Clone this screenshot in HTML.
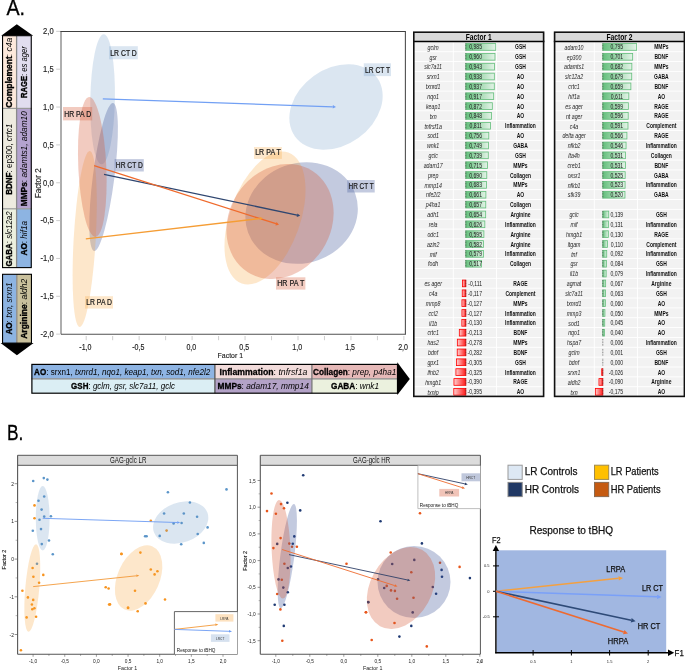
<!DOCTYPE html>
<html><head><meta charset="utf-8"><style>
html,body{margin:0;padding:0;background:#fff;}
svg{display:block;font-family:"Liberation Sans",sans-serif;will-change:transform;}
</style></head><body>
<svg width="685" height="671" viewBox="0 0 685 671">
<rect x="0" y="0" width="685" height="671" fill="#fff"/>
<text x="6.40" y="15.00" font-size="21.5" fill="#000" stroke="#000" stroke-width="0.3" textLength="18.60" lengthAdjust="spacingAndGlyphs" >A.</text>
<polygon points="1.20,35.70 16.80,24.20 33.20,35.70" fill="#000" />
<polygon points="0.60,343.10 16.90,355.30 33.60,343.10" fill="#000" />
<rect x="2.00" y="35.70" width="14.60" height="72.70" fill="#fde9dc" />
<rect x="16.60" y="35.70" width="15.20" height="72.70" fill="#e1ddef" />
<rect x="2.00" y="108.40" width="14.60" height="100.40" fill="#eeebe0" />
<rect x="16.60" y="108.40" width="15.20" height="100.40" fill="#b4a3cf" />
<rect x="2.00" y="208.80" width="14.60" height="58.80" fill="#ecf0df" />
<rect x="16.60" y="208.80" width="15.20" height="58.80" fill="#8db4e2" />
<rect x="2.00" y="274.30" width="14.60" height="68.80" fill="#8db4e2" />
<rect x="16.60" y="274.30" width="15.20" height="68.80" fill="#c9c09c" />
<line x1="2.00" y1="108.40" x2="31.80" y2="108.40" stroke="#9a9a9a" stroke-width="1.2" />
<line x1="2.00" y1="208.80" x2="31.80" y2="208.80" stroke="#9a9a9a" stroke-width="1.2" />
<line x1="16.60" y1="35.70" x2="16.60" y2="267.60" stroke="#8a8a8a" stroke-width="1.3" />
<line x1="16.80" y1="274.30" x2="16.80" y2="343.10" stroke="#8a8a8a" stroke-width="1.3" />
<rect x="2.55" y="35.70" width="28.70" height="231.90" fill="none" stroke="#000" stroke-width="1.1" />
<rect x="2.55" y="274.30" width="28.90" height="68.80" fill="none" stroke="#000" stroke-width="1.1" />
<text transform="translate(11.90,107.70) rotate(-90) scale(0.9265,1)" font-size="9.2" fill="#000"><tspan font-weight="bold" stroke="#000" stroke-width="0.35">Complement</tspan><tspan>: </tspan><tspan font-style="italic">c4a</tspan></text>
<text transform="translate(27.20,98.00) rotate(-90) scale(0.8320,1)" font-size="9.2" fill="#000"><tspan font-weight="bold" stroke="#000" stroke-width="0.35">RAGE</tspan><tspan>: </tspan><tspan font-style="italic">es ager</tspan></text>
<text transform="translate(11.90,194.80) rotate(-90) scale(0.8758,1)" font-size="9.2" fill="#000"><tspan font-weight="bold" stroke="#000" stroke-width="0.35">BDNF</tspan><tspan>: ep300, </tspan><tspan font-style="italic">crtc1</tspan></text>
<text transform="translate(27.20,206.20) rotate(-90) scale(0.9038,1)" font-size="9.2" fill="#000"><tspan font-weight="bold" stroke="#000" stroke-width="0.35">MMPs</tspan><tspan>: </tspan><tspan font-style="italic">adamts1, adam10</tspan></text>
<text transform="translate(11.90,266.60) rotate(-90) scale(0.8653,1)" font-size="9.2" fill="#000"><tspan font-weight="bold" stroke="#000" stroke-width="0.35">GABA</tspan><tspan>: </tspan><tspan font-style="italic">slc12a2</tspan></text>
<text transform="translate(27.20,255.40) rotate(-90) scale(0.8852,1)" font-size="9.2" fill="#000"><tspan font-weight="bold" stroke="#000" stroke-width="0.35">AO</tspan><tspan>: </tspan><tspan font-style="italic">hif1a</tspan></text>
<text transform="translate(11.90,334.60) rotate(-90) scale(0.8878,1)" font-size="9.2" fill="#000"><tspan font-weight="bold" stroke="#000" stroke-width="0.35">AO</tspan><tspan>: </tspan><tspan font-style="italic">txn, srxn1</tspan></text>
<text transform="translate(27.20,338.80) rotate(-90) scale(0.9255,1)" font-size="9.2" fill="#000"><tspan font-weight="bold" stroke="#000" stroke-width="0.35">Arginine</tspan><tspan>: </tspan><tspan font-style="italic">aldh2</tspan></text>
<ellipse cx="0" cy="0" rx="12.30" ry="65.00" transform="translate(102.60,99.30) rotate(1.00)" fill="#6492c3" fill-opacity="0.23" />
<ellipse cx="0" cy="0" rx="50.50" ry="38.20" transform="translate(336.00,107.00) rotate(-35.70)" fill="#6492c3" fill-opacity="0.23" />
<ellipse cx="0" cy="0" rx="10.80" ry="74.60" transform="translate(103.60,177.00) rotate(7.30)" fill="#374e94" fill-opacity="0.3" />
<ellipse cx="0" cy="0" rx="57.00" ry="50.00" transform="translate(301.60,213.00) rotate(-20.00)" fill="#374e94" fill-opacity="0.3" />
<ellipse cx="0" cy="0" rx="11.00" ry="88.10" transform="translate(84.70,239.00) rotate(3.30)" fill="#f7a030" fill-opacity="0.25" />
<ellipse cx="0" cy="0" rx="35.20" ry="69.40" transform="translate(265.00,218.00) rotate(19.60)" fill="#f7a030" fill-opacity="0.25" />
<ellipse cx="0" cy="0" rx="14.00" ry="70.00" transform="translate(92.30,167.00) rotate(-2.60)" fill="#d4522d" fill-opacity="0.3" />
<ellipse cx="0" cy="0" rx="50.80" ry="60.00" transform="translate(280.00,221.50) rotate(32.40)" fill="#d4522d" fill-opacity="0.3" />
<line x1="61.00" y1="31.50" x2="61.00" y2="334.20" stroke="#a0a0a0" stroke-width="1.7" />
<line x1="60.20" y1="31.50" x2="405.90" y2="31.50" stroke="#404040" stroke-width="1.2" />
<line x1="405.40" y1="31.50" x2="405.40" y2="334.20" stroke="#505050" stroke-width="1.1" />
<line x1="61.00" y1="334.20" x2="405.90" y2="334.20" stroke="#505050" stroke-width="1.1" />
<line x1="56.20" y1="31.35" x2="60.20" y2="31.35" stroke="#c8c8c8" stroke-width="0.9" />
<text x="53.60" y="34.15" font-size="8.4" fill="#222" stroke="#222" stroke-width="0.15" text-anchor="end" textLength="10.51" lengthAdjust="spacingAndGlyphs" >2,0</text>
<line x1="56.20" y1="69.20" x2="60.20" y2="69.20" stroke="#c8c8c8" stroke-width="0.9" />
<text x="53.60" y="72.00" font-size="8.4" fill="#222" stroke="#222" stroke-width="0.15" text-anchor="end" textLength="10.51" lengthAdjust="spacingAndGlyphs" >1,5</text>
<line x1="56.20" y1="107.05" x2="60.20" y2="107.05" stroke="#c8c8c8" stroke-width="0.9" />
<text x="53.60" y="109.85" font-size="8.4" fill="#222" stroke="#222" stroke-width="0.15" text-anchor="end" textLength="10.51" lengthAdjust="spacingAndGlyphs" >1,0</text>
<line x1="56.20" y1="144.90" x2="60.20" y2="144.90" stroke="#c8c8c8" stroke-width="0.9" />
<text x="53.60" y="147.70" font-size="8.4" fill="#222" stroke="#222" stroke-width="0.15" text-anchor="end" textLength="10.51" lengthAdjust="spacingAndGlyphs" >0,5</text>
<line x1="56.20" y1="182.75" x2="60.20" y2="182.75" stroke="#c8c8c8" stroke-width="0.9" />
<text x="53.60" y="185.55" font-size="8.4" fill="#222" stroke="#222" stroke-width="0.15" text-anchor="end" textLength="10.51" lengthAdjust="spacingAndGlyphs" >0,0</text>
<line x1="56.20" y1="220.60" x2="60.20" y2="220.60" stroke="#c8c8c8" stroke-width="0.9" />
<text x="53.60" y="223.40" font-size="8.4" fill="#222" stroke="#222" stroke-width="0.15" text-anchor="end" textLength="13.03" lengthAdjust="spacingAndGlyphs" >-0,5</text>
<line x1="56.20" y1="258.45" x2="60.20" y2="258.45" stroke="#c8c8c8" stroke-width="0.9" />
<text x="53.60" y="261.25" font-size="8.4" fill="#222" stroke="#222" stroke-width="0.15" text-anchor="end" textLength="13.03" lengthAdjust="spacingAndGlyphs" >-1,0</text>
<line x1="56.20" y1="296.30" x2="60.20" y2="296.30" stroke="#c8c8c8" stroke-width="0.9" />
<text x="53.60" y="299.10" font-size="8.4" fill="#222" stroke="#222" stroke-width="0.15" text-anchor="end" textLength="13.03" lengthAdjust="spacingAndGlyphs" >-1,5</text>
<line x1="56.20" y1="334.15" x2="60.20" y2="334.15" stroke="#c8c8c8" stroke-width="0.9" />
<text x="53.60" y="336.95" font-size="8.4" fill="#222" stroke="#222" stroke-width="0.15" text-anchor="end" textLength="13.03" lengthAdjust="spacingAndGlyphs" >-2,0</text>
<line x1="86.20" y1="336.00" x2="86.20" y2="340.20" stroke="#c8c8c8" stroke-width="0.9" />
<text x="85.40" y="349.70" font-size="8.2" fill="#222" stroke="#222" stroke-width="0.15" text-anchor="middle" textLength="12.15" lengthAdjust="spacingAndGlyphs" >-1,0</text>
<line x1="112.67" y1="336.00" x2="112.67" y2="340.20" stroke="#c8c8c8" stroke-width="0.9" />
<line x1="139.15" y1="336.00" x2="139.15" y2="340.20" stroke="#c8c8c8" stroke-width="0.9" />
<text x="138.35" y="349.70" font-size="8.2" fill="#222" stroke="#222" stroke-width="0.15" text-anchor="middle" textLength="12.15" lengthAdjust="spacingAndGlyphs" >-0,5</text>
<line x1="165.62" y1="336.00" x2="165.62" y2="340.20" stroke="#c8c8c8" stroke-width="0.9" />
<line x1="192.10" y1="336.00" x2="192.10" y2="340.20" stroke="#c8c8c8" stroke-width="0.9" />
<text x="191.30" y="349.70" font-size="8.2" fill="#222" stroke="#222" stroke-width="0.15" text-anchor="middle" textLength="9.80" lengthAdjust="spacingAndGlyphs" >0,0</text>
<line x1="218.57" y1="336.00" x2="218.57" y2="340.20" stroke="#c8c8c8" stroke-width="0.9" />
<line x1="245.05" y1="336.00" x2="245.05" y2="340.20" stroke="#c8c8c8" stroke-width="0.9" />
<text x="244.25" y="349.70" font-size="8.2" fill="#222" stroke="#222" stroke-width="0.15" text-anchor="middle" textLength="9.80" lengthAdjust="spacingAndGlyphs" >0,5</text>
<line x1="271.52" y1="336.00" x2="271.52" y2="340.20" stroke="#c8c8c8" stroke-width="0.9" />
<line x1="298.00" y1="336.00" x2="298.00" y2="340.20" stroke="#c8c8c8" stroke-width="0.9" />
<text x="297.20" y="349.70" font-size="8.2" fill="#222" stroke="#222" stroke-width="0.15" text-anchor="middle" textLength="9.80" lengthAdjust="spacingAndGlyphs" >1,0</text>
<line x1="324.48" y1="336.00" x2="324.48" y2="340.20" stroke="#c8c8c8" stroke-width="0.9" />
<line x1="350.95" y1="336.00" x2="350.95" y2="340.20" stroke="#c8c8c8" stroke-width="0.9" />
<text x="350.15" y="349.70" font-size="8.2" fill="#222" stroke="#222" stroke-width="0.15" text-anchor="middle" textLength="9.80" lengthAdjust="spacingAndGlyphs" >1,5</text>
<line x1="377.43" y1="336.00" x2="377.43" y2="340.20" stroke="#c8c8c8" stroke-width="0.9" />
<line x1="403.90" y1="336.00" x2="403.90" y2="340.20" stroke="#c8c8c8" stroke-width="0.9" />
<text x="403.10" y="349.70" font-size="8.2" fill="#222" stroke="#222" stroke-width="0.15" text-anchor="middle" textLength="9.80" lengthAdjust="spacingAndGlyphs" >2,0</text>
<text x="217.60" y="358.00" font-size="8.0" fill="#222" stroke="#222" stroke-width="0.15" textLength="25.40" lengthAdjust="spacingAndGlyphs" >Factor 1</text>
<text transform="translate(41.2,198.3) rotate(-90)" font-size="8.6" fill="#222" stroke="#222" stroke-width="0.15" textLength="30" lengthAdjust="spacingAndGlyphs">Factor 2</text>
<line x1="102.80" y1="98.90" x2="332.80" y2="106.79" stroke="#72a0f4" stroke-width="1.2" />
<polygon points="336.00,106.90 332.74,108.49 332.86,105.09" fill="#72a0f4" />
<line x1="104.00" y1="174.30" x2="297.07" y2="215.14" stroke="#2f4670" stroke-width="1.3" />
<polygon points="300.20,215.80 296.70,216.90 297.44,213.38" fill="#2f4670" />
<line x1="94.10" y1="165.70" x2="275.95" y2="223.73" stroke="#ef6a2c" stroke-width="1.3" />
<polygon points="279.00,224.70 275.40,225.44 276.50,222.01" fill="#ef6a2c" />
<line x1="85.80" y1="238.80" x2="259.82" y2="218.57" stroke="#f59d35" stroke-width="1.3" />
<polygon points="263.00,218.20 260.03,220.36 259.61,216.78" fill="#f59d35" />
<rect x="109.10" y="46.20" width="28.70" height="13.10" fill="#6492c3" fill-opacity="0.23"/>
<text x="110.30" y="55.70" font-size="8.4" fill="#1a1a1a" stroke="#1a1a1a" stroke-width="0.22" textLength="26.50" lengthAdjust="spacingAndGlyphs" >LR CT D</text>
<rect x="63.00" y="107.00" width="29.20" height="13.40" fill="#d4522d" fill-opacity="0.3"/>
<text x="64.20" y="116.80" font-size="8.4" fill="#1a1a1a" stroke="#1a1a1a" stroke-width="0.22" textLength="27.00" lengthAdjust="spacingAndGlyphs" >HR PA D</text>
<rect x="114.60" y="159.10" width="29.20" height="12.40" fill="#374e94" fill-opacity="0.3"/>
<text x="115.80" y="167.90" font-size="8.4" fill="#1a1a1a" stroke="#1a1a1a" stroke-width="0.22" textLength="27.00" lengthAdjust="spacingAndGlyphs" >HR CT D</text>
<rect x="85.00" y="296.20" width="28.00" height="12.40" fill="#f7a030" fill-opacity="0.25"/>
<text x="86.20" y="305.00" font-size="8.4" fill="#1a1a1a" stroke="#1a1a1a" stroke-width="0.22" textLength="25.80" lengthAdjust="spacingAndGlyphs" >LR PA D</text>
<rect x="363.80" y="63.30" width="27.20" height="12.80" fill="#6492c3" fill-opacity="0.23"/>
<text x="365.00" y="72.50" font-size="8.4" fill="#1a1a1a" stroke="#1a1a1a" stroke-width="0.22" textLength="25.00" lengthAdjust="spacingAndGlyphs" >LR CT T</text>
<rect x="254.00" y="147.00" width="27.90" height="11.90" fill="#f7a030" fill-opacity="0.25"/>
<text x="255.20" y="155.30" font-size="8.4" fill="#1a1a1a" stroke="#1a1a1a" stroke-width="0.22" textLength="25.70" lengthAdjust="spacingAndGlyphs" >LR PA T</text>
<rect x="347.30" y="180.00" width="27.40" height="12.50" fill="#374e94" fill-opacity="0.3"/>
<text x="348.50" y="188.90" font-size="8.4" fill="#1a1a1a" stroke="#1a1a1a" stroke-width="0.22" textLength="25.20" lengthAdjust="spacingAndGlyphs" >HR CT T</text>
<rect x="276.00" y="277.30" width="29.40" height="12.30" fill="#d4522d" fill-opacity="0.3"/>
<text x="277.20" y="286.00" font-size="8.4" fill="#1a1a1a" stroke="#1a1a1a" stroke-width="0.22" textLength="27.20" lengthAdjust="spacingAndGlyphs" >HR PA T</text>
<rect x="31.40" y="364.40" width="183.60" height="14.40" fill="#8eb4e3" />
<rect x="31.40" y="378.80" width="183.60" height="14.40" fill="#dbeef4" />
<rect x="215.00" y="364.40" width="96.90" height="14.40" fill="#f2dcdb" />
<rect x="215.00" y="378.80" width="96.90" height="14.40" fill="#b3a2c7" />
<rect x="311.90" y="364.40" width="85.60" height="14.40" fill="#e6b9b8" />
<rect x="311.90" y="378.80" width="85.60" height="14.40" fill="#ebf1de" />
<line x1="31.40" y1="378.80" x2="397.50" y2="378.80" stroke="#8a8a8a" stroke-width="1.2" />
<line x1="214.90" y1="364.40" x2="214.90" y2="393.20" stroke="#555" stroke-width="1.3" />
<line x1="311.90" y1="364.40" x2="311.90" y2="393.20" stroke="#777" stroke-width="1.3" />
<rect x="31.90" y="364.40" width="365.60" height="28.80" fill="none" stroke="#000" stroke-width="1.2" />
<polygon points="397.30,362.30 409.80,379.00 397.30,395.00" fill="#000" />
<text transform="translate(34.10,374.90) scale(0.8792,1)" font-size="9.2" fill="#000" ><tspan font-weight="bold" stroke="#000" stroke-width="0.3">AO</tspan><tspan>: srxn1, </tspan><tspan font-style="italic">txnrd1, nqo1, keap1, txn, sod1,  nfe2l2</tspan></text>
<text transform="translate(71.10,389.00) scale(0.8705,1)" font-size="9.2" fill="#000" ><tspan font-weight="bold" stroke="#000" stroke-width="0.3">GSH</tspan><tspan>: </tspan><tspan font-style="italic">gclm, gsr, slc7a11, gclc</tspan></text>
<text transform="translate(219.50,374.90) scale(0.9458,1)" font-size="9.2" fill="#000" ><tspan font-weight="bold" stroke="#000" stroke-width="0.3">Inflammation</tspan><tspan>: </tspan><tspan font-style="italic">tnfrsf1a</tspan></text>
<text transform="translate(217.50,389.00) scale(0.9084,1)" font-size="9.2" fill="#000" ><tspan font-weight="bold" stroke="#000" stroke-width="0.3">MMPs</tspan><tspan>: </tspan><tspan font-style="italic">adam17, mmp14</tspan></text>
<text transform="translate(313.00,374.90) scale(0.8972,1)" font-size="9.2" fill="#000" ><tspan font-weight="bold" stroke="#000" stroke-width="0.3">Collagen</tspan><tspan>: </tspan><tspan font-style="italic">prep, p4ha1</tspan></text>
<text transform="translate(331.00,389.00) scale(0.8942,1)" font-size="9.2" fill="#000" ><tspan font-weight="bold" stroke="#000" stroke-width="0.3">GABA</tspan><tspan>: </tspan><tspan font-style="italic">wnk1</tspan></text>
<defs>
<linearGradient id="gg" x1="0" x2="1" y1="0" y2="0"><stop offset="0" stop-color="#63be7b"/><stop offset="1" stop-color="#e3f3e7"/></linearGradient>
<linearGradient id="rg" x1="0" x2="1" y1="0" y2="0"><stop offset="0" stop-color="#ffd0d0"/><stop offset="1" stop-color="#ff1a1a"/></linearGradient>
</defs>
<rect x="413.00" y="31.40" width="131.40" height="365.00" fill="#ffffff" />
<rect x="413.00" y="32.60" width="131.40" height="8.40" fill="#d9d9d9" />
<rect x="413.00" y="42.30" width="131.40" height="8.95" fill="#f2f2f2" />
<rect x="413.00" y="52.15" width="131.40" height="8.95" fill="#f2f2f2" />
<rect x="413.00" y="62.01" width="131.40" height="8.95" fill="#f2f2f2" />
<rect x="413.00" y="71.86" width="131.40" height="8.95" fill="#f2f2f2" />
<rect x="413.00" y="81.71" width="131.40" height="8.95" fill="#f2f2f2" />
<rect x="413.00" y="91.56" width="131.40" height="8.95" fill="#f2f2f2" />
<rect x="413.00" y="101.42" width="131.40" height="8.95" fill="#f2f2f2" />
<rect x="413.00" y="111.27" width="131.40" height="8.95" fill="#f2f2f2" />
<rect x="413.00" y="121.12" width="131.40" height="8.95" fill="#f2f2f2" />
<rect x="413.00" y="130.98" width="131.40" height="8.95" fill="#f2f2f2" />
<rect x="413.00" y="140.83" width="131.40" height="8.95" fill="#f2f2f2" />
<rect x="413.00" y="150.68" width="131.40" height="8.95" fill="#f2f2f2" />
<rect x="413.00" y="160.54" width="131.40" height="8.95" fill="#f2f2f2" />
<rect x="413.00" y="170.39" width="131.40" height="8.95" fill="#f2f2f2" />
<rect x="413.00" y="180.24" width="131.40" height="8.95" fill="#f2f2f2" />
<rect x="413.00" y="190.09" width="131.40" height="8.95" fill="#f2f2f2" />
<rect x="413.00" y="199.95" width="131.40" height="8.95" fill="#f2f2f2" />
<rect x="413.00" y="209.80" width="131.40" height="8.95" fill="#f2f2f2" />
<rect x="413.00" y="219.65" width="131.40" height="8.95" fill="#f2f2f2" />
<rect x="413.00" y="229.51" width="131.40" height="8.95" fill="#f2f2f2" />
<rect x="413.00" y="239.36" width="131.40" height="8.95" fill="#f2f2f2" />
<rect x="413.00" y="249.21" width="131.40" height="8.95" fill="#f2f2f2" />
<rect x="413.00" y="259.07" width="131.40" height="8.95" fill="#f2f2f2" />
<rect x="413.00" y="268.92" width="131.40" height="8.95" fill="#f2f2f2" />
<rect x="413.00" y="278.77" width="131.40" height="8.95" fill="#f2f2f2" />
<rect x="413.00" y="288.62" width="131.40" height="8.95" fill="#f2f2f2" />
<rect x="413.00" y="298.48" width="131.40" height="8.95" fill="#f2f2f2" />
<rect x="413.00" y="308.33" width="131.40" height="8.95" fill="#f2f2f2" />
<rect x="413.00" y="318.18" width="131.40" height="8.95" fill="#f2f2f2" />
<rect x="413.00" y="328.04" width="131.40" height="8.95" fill="#f2f2f2" />
<rect x="413.00" y="337.89" width="131.40" height="8.95" fill="#f2f2f2" />
<rect x="413.00" y="347.74" width="131.40" height="8.95" fill="#f2f2f2" />
<rect x="413.00" y="357.60" width="131.40" height="8.95" fill="#f2f2f2" />
<rect x="413.00" y="367.45" width="131.40" height="8.95" fill="#f2f2f2" />
<rect x="413.00" y="377.30" width="131.40" height="8.95" fill="#f2f2f2" />
<rect x="413.00" y="387.16" width="131.40" height="8.95" fill="#f2f2f2" />
<rect x="452.85" y="42.30" width="0.90" height="354.10" fill="#ffffff" />
<rect x="496.05" y="42.30" width="0.90" height="354.10" fill="#ffffff" />
<text x="433.15" y="49.68" font-size="7.0" fill="#262626" font-style="italic" text-anchor="middle" textLength="11.08" lengthAdjust="spacingAndGlyphs" >gclm</text>
<rect x="465.80" y="43.60" width="29.94" height="6.70" fill="url(#gg)" stroke="#63be7b" stroke-width="0.8" />
<line x1="465.80" y1="43.50" x2="465.80" y2="50.40" stroke="#333" stroke-width="0.7" stroke-dasharray="0.8,0.8"/>
<text x="482.00" y="49.48" font-size="6.8" fill="#1a1a1a" text-anchor="end" textLength="12.76" lengthAdjust="spacingAndGlyphs" >0,985</text>
<text x="520.45" y="49.48" font-size="6.8" fill="#111" font-weight="bold" text-anchor="middle" textLength="10.76" lengthAdjust="spacingAndGlyphs" >GSH</text>
<text x="433.15" y="59.53" font-size="7.0" fill="#262626" font-style="italic" text-anchor="middle" textLength="7.29" lengthAdjust="spacingAndGlyphs" >gsr</text>
<rect x="465.80" y="53.45" width="29.18" height="6.70" fill="url(#gg)" stroke="#63be7b" stroke-width="0.8" />
<line x1="465.80" y1="53.35" x2="465.80" y2="60.25" stroke="#333" stroke-width="0.7" stroke-dasharray="0.8,0.8"/>
<text x="482.00" y="59.33" font-size="6.8" fill="#1a1a1a" text-anchor="end" textLength="12.76" lengthAdjust="spacingAndGlyphs" >0,960</text>
<text x="520.45" y="59.33" font-size="6.8" fill="#111" font-weight="bold" text-anchor="middle" textLength="10.76" lengthAdjust="spacingAndGlyphs" >GSH</text>
<text x="433.15" y="69.38" font-size="7.0" fill="#262626" font-style="italic" text-anchor="middle" textLength="17.71" lengthAdjust="spacingAndGlyphs" >slc7a11</text>
<rect x="465.80" y="63.31" width="28.67" height="6.70" fill="url(#gg)" stroke="#63be7b" stroke-width="0.8" />
<line x1="465.80" y1="63.21" x2="465.80" y2="70.11" stroke="#333" stroke-width="0.7" stroke-dasharray="0.8,0.8"/>
<text x="482.00" y="69.18" font-size="6.8" fill="#1a1a1a" text-anchor="end" textLength="12.76" lengthAdjust="spacingAndGlyphs" >0,943</text>
<text x="520.45" y="69.18" font-size="6.8" fill="#111" font-weight="bold" text-anchor="middle" textLength="10.76" lengthAdjust="spacingAndGlyphs" >GSH</text>
<text x="433.15" y="79.24" font-size="7.0" fill="#262626" font-style="italic" text-anchor="middle" textLength="12.84" lengthAdjust="spacingAndGlyphs" >srxn1</text>
<rect x="465.80" y="73.16" width="28.52" height="6.70" fill="url(#gg)" stroke="#63be7b" stroke-width="0.8" />
<line x1="465.80" y1="73.06" x2="465.80" y2="79.96" stroke="#333" stroke-width="0.7" stroke-dasharray="0.8,0.8"/>
<text x="482.00" y="79.04" font-size="6.8" fill="#1a1a1a" text-anchor="end" textLength="12.76" lengthAdjust="spacingAndGlyphs" >0,938</text>
<text x="520.45" y="79.04" font-size="6.8" fill="#111" font-weight="bold" text-anchor="middle" textLength="7.45" lengthAdjust="spacingAndGlyphs" >AO</text>
<text x="433.15" y="89.09" font-size="7.0" fill="#262626" font-style="italic" text-anchor="middle" textLength="14.59" lengthAdjust="spacingAndGlyphs" >txnrd1</text>
<rect x="465.80" y="83.01" width="28.48" height="6.70" fill="url(#gg)" stroke="#63be7b" stroke-width="0.8" />
<line x1="465.80" y1="82.91" x2="465.80" y2="89.81" stroke="#333" stroke-width="0.7" stroke-dasharray="0.8,0.8"/>
<text x="482.00" y="88.89" font-size="6.8" fill="#1a1a1a" text-anchor="end" textLength="12.76" lengthAdjust="spacingAndGlyphs" >0,937</text>
<text x="520.45" y="88.89" font-size="6.8" fill="#111" font-weight="bold" text-anchor="middle" textLength="7.45" lengthAdjust="spacingAndGlyphs" >AO</text>
<text x="433.15" y="98.94" font-size="7.0" fill="#262626" font-style="italic" text-anchor="middle" textLength="11.68" lengthAdjust="spacingAndGlyphs" >nqo1</text>
<rect x="465.80" y="92.86" width="27.88" height="6.70" fill="url(#gg)" stroke="#63be7b" stroke-width="0.8" />
<line x1="465.80" y1="92.77" x2="465.80" y2="99.66" stroke="#333" stroke-width="0.7" stroke-dasharray="0.8,0.8"/>
<text x="482.00" y="98.74" font-size="6.8" fill="#1a1a1a" text-anchor="end" textLength="12.76" lengthAdjust="spacingAndGlyphs" >0,917</text>
<text x="520.45" y="98.74" font-size="6.8" fill="#111" font-weight="bold" text-anchor="middle" textLength="7.45" lengthAdjust="spacingAndGlyphs" >AO</text>
<text x="433.15" y="108.79" font-size="7.0" fill="#262626" font-style="italic" text-anchor="middle" textLength="14.30" lengthAdjust="spacingAndGlyphs" >keap1</text>
<rect x="465.80" y="102.72" width="26.51" height="6.70" fill="url(#gg)" stroke="#63be7b" stroke-width="0.8" />
<line x1="465.80" y1="102.62" x2="465.80" y2="109.52" stroke="#333" stroke-width="0.7" stroke-dasharray="0.8,0.8"/>
<text x="482.00" y="108.59" font-size="6.8" fill="#1a1a1a" text-anchor="end" textLength="12.76" lengthAdjust="spacingAndGlyphs" >0,872</text>
<text x="520.45" y="108.59" font-size="6.8" fill="#111" font-weight="bold" text-anchor="middle" textLength="7.45" lengthAdjust="spacingAndGlyphs" >AO</text>
<text x="433.15" y="118.65" font-size="7.0" fill="#262626" font-style="italic" text-anchor="middle" textLength="7.00" lengthAdjust="spacingAndGlyphs" >txn</text>
<rect x="465.80" y="112.57" width="25.78" height="6.70" fill="url(#gg)" stroke="#63be7b" stroke-width="0.8" />
<line x1="465.80" y1="112.47" x2="465.80" y2="119.37" stroke="#333" stroke-width="0.7" stroke-dasharray="0.8,0.8"/>
<text x="482.00" y="118.45" font-size="6.8" fill="#1a1a1a" text-anchor="end" textLength="12.76" lengthAdjust="spacingAndGlyphs" >0,848</text>
<text x="520.45" y="118.45" font-size="6.8" fill="#111" font-weight="bold" text-anchor="middle" textLength="7.45" lengthAdjust="spacingAndGlyphs" >AO</text>
<text x="433.15" y="128.50" font-size="7.0" fill="#262626" font-style="italic" text-anchor="middle" textLength="17.51" lengthAdjust="spacingAndGlyphs" >tnfrsf1a</text>
<rect x="465.80" y="122.42" width="24.65" height="6.70" fill="url(#gg)" stroke="#63be7b" stroke-width="0.8" />
<line x1="465.80" y1="122.32" x2="465.80" y2="129.22" stroke="#333" stroke-width="0.7" stroke-dasharray="0.8,0.8"/>
<text x="482.00" y="128.30" font-size="6.8" fill="#1a1a1a" text-anchor="end" textLength="12.38" lengthAdjust="spacingAndGlyphs" >0,811</text>
<text x="520.45" y="128.30" font-size="6.8" fill="#111" font-weight="bold" text-anchor="middle" textLength="30.89" lengthAdjust="spacingAndGlyphs" >Inflammation</text>
<text x="433.15" y="138.35" font-size="7.0" fill="#262626" font-style="italic" text-anchor="middle" textLength="11.38" lengthAdjust="spacingAndGlyphs" >sod1</text>
<rect x="465.80" y="132.28" width="22.98" height="6.70" fill="url(#gg)" stroke="#63be7b" stroke-width="0.8" />
<line x1="465.80" y1="132.18" x2="465.80" y2="139.08" stroke="#333" stroke-width="0.7" stroke-dasharray="0.8,0.8"/>
<text x="482.00" y="138.15" font-size="6.8" fill="#1a1a1a" text-anchor="end" textLength="12.76" lengthAdjust="spacingAndGlyphs" >0,756</text>
<text x="520.45" y="138.15" font-size="6.8" fill="#111" font-weight="bold" text-anchor="middle" textLength="7.45" lengthAdjust="spacingAndGlyphs" >AO</text>
<text x="433.15" y="148.21" font-size="7.0" fill="#262626" font-style="italic" text-anchor="middle" textLength="12.26" lengthAdjust="spacingAndGlyphs" >wnk1</text>
<rect x="465.80" y="142.13" width="22.77" height="6.70" fill="url(#gg)" stroke="#63be7b" stroke-width="0.8" />
<line x1="465.80" y1="142.03" x2="465.80" y2="148.93" stroke="#333" stroke-width="0.7" stroke-dasharray="0.8,0.8"/>
<text x="482.00" y="148.01" font-size="6.8" fill="#1a1a1a" text-anchor="end" textLength="12.76" lengthAdjust="spacingAndGlyphs" >0,749</text>
<text x="520.45" y="148.01" font-size="6.8" fill="#111" font-weight="bold" text-anchor="middle" textLength="14.62" lengthAdjust="spacingAndGlyphs" >GABA</text>
<text x="433.15" y="158.06" font-size="7.0" fill="#262626" font-style="italic" text-anchor="middle" textLength="9.34" lengthAdjust="spacingAndGlyphs" >gclc</text>
<rect x="465.80" y="151.98" width="22.47" height="6.70" fill="url(#gg)" stroke="#63be7b" stroke-width="0.8" />
<line x1="465.80" y1="151.88" x2="465.80" y2="158.78" stroke="#333" stroke-width="0.7" stroke-dasharray="0.8,0.8"/>
<text x="482.00" y="157.86" font-size="6.8" fill="#1a1a1a" text-anchor="end" textLength="12.76" lengthAdjust="spacingAndGlyphs" >0,739</text>
<text x="520.45" y="157.86" font-size="6.8" fill="#111" font-weight="bold" text-anchor="middle" textLength="10.76" lengthAdjust="spacingAndGlyphs" >GSH</text>
<text x="433.15" y="167.91" font-size="7.0" fill="#262626" font-style="italic" text-anchor="middle" textLength="18.97" lengthAdjust="spacingAndGlyphs" >adam17</text>
<rect x="465.80" y="161.84" width="21.74" height="6.70" fill="url(#gg)" stroke="#63be7b" stroke-width="0.8" />
<line x1="465.80" y1="161.74" x2="465.80" y2="168.64" stroke="#333" stroke-width="0.7" stroke-dasharray="0.8,0.8"/>
<text x="482.00" y="167.71" font-size="6.8" fill="#1a1a1a" text-anchor="end" textLength="12.76" lengthAdjust="spacingAndGlyphs" >0,715</text>
<text x="520.45" y="167.71" font-size="6.8" fill="#111" font-weight="bold" text-anchor="middle" textLength="14.34" lengthAdjust="spacingAndGlyphs" >MMPs</text>
<text x="433.15" y="177.77" font-size="7.0" fill="#262626" font-style="italic" text-anchor="middle" textLength="10.51" lengthAdjust="spacingAndGlyphs" >prep</text>
<rect x="465.80" y="171.69" width="20.98" height="6.70" fill="url(#gg)" stroke="#63be7b" stroke-width="0.8" />
<line x1="465.80" y1="171.59" x2="465.80" y2="178.49" stroke="#333" stroke-width="0.7" stroke-dasharray="0.8,0.8"/>
<text x="482.00" y="177.57" font-size="6.8" fill="#1a1a1a" text-anchor="end" textLength="12.76" lengthAdjust="spacingAndGlyphs" >0,690</text>
<text x="520.45" y="177.57" font-size="6.8" fill="#111" font-weight="bold" text-anchor="middle" textLength="20.96" lengthAdjust="spacingAndGlyphs" >Collagen</text>
<text x="433.15" y="187.62" font-size="7.0" fill="#262626" font-style="italic" text-anchor="middle" textLength="17.51" lengthAdjust="spacingAndGlyphs" >mmp14</text>
<rect x="465.80" y="181.54" width="20.76" height="6.70" fill="url(#gg)" stroke="#63be7b" stroke-width="0.8" />
<line x1="465.80" y1="181.44" x2="465.80" y2="188.34" stroke="#333" stroke-width="0.7" stroke-dasharray="0.8,0.8"/>
<text x="482.00" y="187.42" font-size="6.8" fill="#1a1a1a" text-anchor="end" textLength="12.76" lengthAdjust="spacingAndGlyphs" >0,683</text>
<text x="520.45" y="187.42" font-size="6.8" fill="#111" font-weight="bold" text-anchor="middle" textLength="14.34" lengthAdjust="spacingAndGlyphs" >MMPs</text>
<text x="433.15" y="197.47" font-size="7.0" fill="#262626" font-style="italic" text-anchor="middle" textLength="14.30" lengthAdjust="spacingAndGlyphs" >nfe2l2</text>
<rect x="465.80" y="191.39" width="20.09" height="6.70" fill="url(#gg)" stroke="#63be7b" stroke-width="0.8" />
<line x1="465.80" y1="191.29" x2="465.80" y2="198.19" stroke="#333" stroke-width="0.7" stroke-dasharray="0.8,0.8"/>
<text x="482.00" y="197.27" font-size="6.8" fill="#1a1a1a" text-anchor="end" textLength="12.76" lengthAdjust="spacingAndGlyphs" >0,661</text>
<text x="520.45" y="197.27" font-size="6.8" fill="#111" font-weight="bold" text-anchor="middle" textLength="7.45" lengthAdjust="spacingAndGlyphs" >AO</text>
<text x="433.15" y="207.32" font-size="7.0" fill="#262626" font-style="italic" text-anchor="middle" textLength="14.60" lengthAdjust="spacingAndGlyphs" >p4ha1</text>
<rect x="465.80" y="201.25" width="19.97" height="6.70" fill="url(#gg)" stroke="#63be7b" stroke-width="0.8" />
<line x1="465.80" y1="201.15" x2="465.80" y2="208.05" stroke="#333" stroke-width="0.7" stroke-dasharray="0.8,0.8"/>
<text x="482.00" y="207.12" font-size="6.8" fill="#1a1a1a" text-anchor="end" textLength="12.76" lengthAdjust="spacingAndGlyphs" >0,657</text>
<text x="520.45" y="207.12" font-size="6.8" fill="#111" font-weight="bold" text-anchor="middle" textLength="20.96" lengthAdjust="spacingAndGlyphs" >Collagen</text>
<text x="433.15" y="217.18" font-size="7.0" fill="#262626" font-style="italic" text-anchor="middle" textLength="11.68" lengthAdjust="spacingAndGlyphs" >adh1</text>
<rect x="465.80" y="211.10" width="19.88" height="6.70" fill="url(#gg)" stroke="#63be7b" stroke-width="0.8" />
<line x1="465.80" y1="211.00" x2="465.80" y2="217.90" stroke="#333" stroke-width="0.7" stroke-dasharray="0.8,0.8"/>
<text x="482.00" y="216.98" font-size="6.8" fill="#1a1a1a" text-anchor="end" textLength="12.76" lengthAdjust="spacingAndGlyphs" >0,654</text>
<text x="520.45" y="216.98" font-size="6.8" fill="#111" font-weight="bold" text-anchor="middle" textLength="20.13" lengthAdjust="spacingAndGlyphs" >Arginine</text>
<text x="433.15" y="227.03" font-size="7.0" fill="#262626" font-style="italic" text-anchor="middle" textLength="8.75" lengthAdjust="spacingAndGlyphs" >rela</text>
<rect x="465.80" y="220.95" width="19.03" height="6.70" fill="url(#gg)" stroke="#63be7b" stroke-width="0.8" />
<line x1="465.80" y1="220.85" x2="465.80" y2="227.75" stroke="#333" stroke-width="0.7" stroke-dasharray="0.8,0.8"/>
<text x="482.00" y="226.83" font-size="6.8" fill="#1a1a1a" text-anchor="end" textLength="12.76" lengthAdjust="spacingAndGlyphs" >0,626</text>
<text x="520.45" y="226.83" font-size="6.8" fill="#111" font-weight="bold" text-anchor="middle" textLength="30.89" lengthAdjust="spacingAndGlyphs" >Inflammation</text>
<text x="433.15" y="236.88" font-size="7.0" fill="#262626" font-style="italic" text-anchor="middle" textLength="11.38" lengthAdjust="spacingAndGlyphs" >odc1</text>
<rect x="465.80" y="230.81" width="18.09" height="6.70" fill="url(#gg)" stroke="#63be7b" stroke-width="0.8" />
<line x1="465.80" y1="230.71" x2="465.80" y2="237.61" stroke="#333" stroke-width="0.7" stroke-dasharray="0.8,0.8"/>
<text x="482.00" y="236.68" font-size="6.8" fill="#1a1a1a" text-anchor="end" textLength="12.76" lengthAdjust="spacingAndGlyphs" >0,595</text>
<text x="520.45" y="236.68" font-size="6.8" fill="#111" font-weight="bold" text-anchor="middle" textLength="20.13" lengthAdjust="spacingAndGlyphs" >Arginine</text>
<text x="433.15" y="246.74" font-size="7.0" fill="#262626" font-style="italic" text-anchor="middle" textLength="12.55" lengthAdjust="spacingAndGlyphs" >azin2</text>
<rect x="465.80" y="240.66" width="17.69" height="6.70" fill="url(#gg)" stroke="#63be7b" stroke-width="0.8" />
<line x1="465.80" y1="240.56" x2="465.80" y2="247.46" stroke="#333" stroke-width="0.7" stroke-dasharray="0.8,0.8"/>
<text x="482.00" y="246.54" font-size="6.8" fill="#1a1a1a" text-anchor="end" textLength="12.76" lengthAdjust="spacingAndGlyphs" >0,582</text>
<text x="520.45" y="246.54" font-size="6.8" fill="#111" font-weight="bold" text-anchor="middle" textLength="20.13" lengthAdjust="spacingAndGlyphs" >Arginine</text>
<text x="433.15" y="256.59" font-size="7.0" fill="#262626" font-style="italic" text-anchor="middle" textLength="7.00" lengthAdjust="spacingAndGlyphs" >mif</text>
<rect x="465.80" y="250.51" width="17.60" height="6.70" fill="url(#gg)" stroke="#63be7b" stroke-width="0.8" />
<line x1="465.80" y1="250.41" x2="465.80" y2="257.31" stroke="#333" stroke-width="0.7" stroke-dasharray="0.8,0.8"/>
<text x="482.00" y="256.39" font-size="6.8" fill="#1a1a1a" text-anchor="end" textLength="12.76" lengthAdjust="spacingAndGlyphs" >0,579</text>
<text x="520.45" y="256.39" font-size="6.8" fill="#111" font-weight="bold" text-anchor="middle" textLength="30.89" lengthAdjust="spacingAndGlyphs" >Inflammation</text>
<text x="433.15" y="266.44" font-size="7.0" fill="#262626" font-style="italic" text-anchor="middle" textLength="10.22" lengthAdjust="spacingAndGlyphs" >fodh</text>
<rect x="465.80" y="260.37" width="15.72" height="6.70" fill="url(#gg)" stroke="#63be7b" stroke-width="0.8" />
<line x1="465.80" y1="260.27" x2="465.80" y2="267.17" stroke="#333" stroke-width="0.7" stroke-dasharray="0.8,0.8"/>
<text x="482.00" y="266.24" font-size="6.8" fill="#1a1a1a" text-anchor="end" textLength="12.76" lengthAdjust="spacingAndGlyphs" >0,517</text>
<text x="520.45" y="266.24" font-size="6.8" fill="#111" font-weight="bold" text-anchor="middle" textLength="20.96" lengthAdjust="spacingAndGlyphs" >Collagen</text>
<text x="433.15" y="286.15" font-size="7.0" fill="#262626" font-style="italic" text-anchor="middle" textLength="17.51" lengthAdjust="spacingAndGlyphs" >es ager</text>
<rect x="462.43" y="280.07" width="3.37" height="6.70" fill="url(#rg)" stroke="#ff0000" stroke-width="0.8" />
<line x1="465.80" y1="279.97" x2="465.80" y2="286.87" stroke="#333" stroke-width="0.7" stroke-dasharray="0.8,0.8"/>
<text x="482.00" y="285.95" font-size="6.8" fill="#1a1a1a" text-anchor="end" textLength="13.70" lengthAdjust="spacingAndGlyphs" >-0,111</text>
<text x="520.45" y="285.95" font-size="6.8" fill="#111" font-weight="bold" text-anchor="middle" textLength="14.34" lengthAdjust="spacingAndGlyphs" >RAGE</text>
<text x="433.15" y="296.00" font-size="7.0" fill="#262626" font-style="italic" text-anchor="middle" textLength="8.46" lengthAdjust="spacingAndGlyphs" >c4a</text>
<rect x="462.24" y="289.93" width="3.56" height="6.70" fill="url(#rg)" stroke="#ff0000" stroke-width="0.8" />
<line x1="465.80" y1="289.82" x2="465.80" y2="296.73" stroke="#333" stroke-width="0.7" stroke-dasharray="0.8,0.8"/>
<text x="482.00" y="295.80" font-size="6.8" fill="#1a1a1a" text-anchor="end" textLength="14.08" lengthAdjust="spacingAndGlyphs" >-0,117</text>
<text x="520.45" y="295.80" font-size="6.8" fill="#111" font-weight="bold" text-anchor="middle" textLength="30.06" lengthAdjust="spacingAndGlyphs" >Complement</text>
<text x="433.15" y="305.85" font-size="7.0" fill="#262626" font-style="italic" text-anchor="middle" textLength="14.59" lengthAdjust="spacingAndGlyphs" >mmp8</text>
<rect x="461.94" y="299.78" width="3.86" height="6.70" fill="url(#rg)" stroke="#ff0000" stroke-width="0.8" />
<line x1="465.80" y1="299.68" x2="465.80" y2="306.58" stroke="#333" stroke-width="0.7" stroke-dasharray="0.8,0.8"/>
<text x="482.00" y="305.65" font-size="6.8" fill="#1a1a1a" text-anchor="end" textLength="14.46" lengthAdjust="spacingAndGlyphs" >-0,127</text>
<text x="520.45" y="305.65" font-size="6.8" fill="#111" font-weight="bold" text-anchor="middle" textLength="14.34" lengthAdjust="spacingAndGlyphs" >MMPs</text>
<text x="433.15" y="315.71" font-size="7.0" fill="#262626" font-style="italic" text-anchor="middle" textLength="9.34" lengthAdjust="spacingAndGlyphs" >ccl2</text>
<rect x="461.94" y="309.63" width="3.86" height="6.70" fill="url(#rg)" stroke="#ff0000" stroke-width="0.8" />
<line x1="465.80" y1="309.53" x2="465.80" y2="316.43" stroke="#333" stroke-width="0.7" stroke-dasharray="0.8,0.8"/>
<text x="482.00" y="315.51" font-size="6.8" fill="#1a1a1a" text-anchor="end" textLength="14.46" lengthAdjust="spacingAndGlyphs" >-0,127</text>
<text x="520.45" y="315.51" font-size="6.8" fill="#111" font-weight="bold" text-anchor="middle" textLength="30.89" lengthAdjust="spacingAndGlyphs" >Inflammation</text>
<text x="433.15" y="325.56" font-size="7.0" fill="#262626" font-style="italic" text-anchor="middle" textLength="8.17" lengthAdjust="spacingAndGlyphs" >il1b</text>
<rect x="461.85" y="319.48" width="3.95" height="6.70" fill="url(#rg)" stroke="#ff0000" stroke-width="0.8" />
<line x1="465.80" y1="319.38" x2="465.80" y2="326.28" stroke="#333" stroke-width="0.7" stroke-dasharray="0.8,0.8"/>
<text x="482.00" y="325.36" font-size="6.8" fill="#1a1a1a" text-anchor="end" textLength="14.46" lengthAdjust="spacingAndGlyphs" >-0,130</text>
<text x="520.45" y="325.36" font-size="6.8" fill="#111" font-weight="bold" text-anchor="middle" textLength="30.89" lengthAdjust="spacingAndGlyphs" >Inflammation</text>
<text x="433.15" y="335.41" font-size="7.0" fill="#262626" font-style="italic" text-anchor="middle" textLength="11.38" lengthAdjust="spacingAndGlyphs" >crtc1</text>
<rect x="459.32" y="329.34" width="6.48" height="6.70" fill="url(#rg)" stroke="#ff0000" stroke-width="0.8" />
<line x1="465.80" y1="329.24" x2="465.80" y2="336.14" stroke="#333" stroke-width="0.7" stroke-dasharray="0.8,0.8"/>
<text x="482.00" y="335.21" font-size="6.8" fill="#1a1a1a" text-anchor="end" textLength="14.46" lengthAdjust="spacingAndGlyphs" >-0,213</text>
<text x="520.45" y="335.21" font-size="6.8" fill="#111" font-weight="bold" text-anchor="middle" textLength="13.79" lengthAdjust="spacingAndGlyphs" >BDNF</text>
<text x="433.15" y="345.27" font-size="7.0" fill="#262626" font-style="italic" text-anchor="middle" textLength="11.38" lengthAdjust="spacingAndGlyphs" >has2</text>
<rect x="457.35" y="339.19" width="8.45" height="6.70" fill="url(#rg)" stroke="#ff0000" stroke-width="0.8" />
<line x1="465.80" y1="339.09" x2="465.80" y2="345.99" stroke="#333" stroke-width="0.7" stroke-dasharray="0.8,0.8"/>
<text x="482.00" y="345.07" font-size="6.8" fill="#1a1a1a" text-anchor="end" textLength="14.46" lengthAdjust="spacingAndGlyphs" >-0,278</text>
<text x="520.45" y="345.07" font-size="6.8" fill="#111" font-weight="bold" text-anchor="middle" textLength="14.34" lengthAdjust="spacingAndGlyphs" >MMPs</text>
<text x="433.15" y="355.12" font-size="7.0" fill="#262626" font-style="italic" text-anchor="middle" textLength="10.22" lengthAdjust="spacingAndGlyphs" >bdnf</text>
<rect x="457.23" y="349.04" width="8.57" height="6.70" fill="url(#rg)" stroke="#ff0000" stroke-width="0.8" />
<line x1="465.80" y1="348.94" x2="465.80" y2="355.84" stroke="#333" stroke-width="0.7" stroke-dasharray="0.8,0.8"/>
<text x="482.00" y="354.92" font-size="6.8" fill="#1a1a1a" text-anchor="end" textLength="14.46" lengthAdjust="spacingAndGlyphs" >-0,282</text>
<text x="520.45" y="354.92" font-size="6.8" fill="#111" font-weight="bold" text-anchor="middle" textLength="13.79" lengthAdjust="spacingAndGlyphs" >BDNF</text>
<text x="433.15" y="364.97" font-size="7.0" fill="#262626" font-style="italic" text-anchor="middle" textLength="11.38" lengthAdjust="spacingAndGlyphs" >gpx1</text>
<rect x="456.53" y="358.90" width="9.27" height="6.70" fill="url(#rg)" stroke="#ff0000" stroke-width="0.8" />
<line x1="465.80" y1="358.80" x2="465.80" y2="365.70" stroke="#333" stroke-width="0.7" stroke-dasharray="0.8,0.8"/>
<text x="482.00" y="364.77" font-size="6.8" fill="#1a1a1a" text-anchor="end" textLength="14.46" lengthAdjust="spacingAndGlyphs" >-0,305</text>
<text x="520.45" y="364.77" font-size="6.8" fill="#111" font-weight="bold" text-anchor="middle" textLength="10.76" lengthAdjust="spacingAndGlyphs" >GSH</text>
<text x="433.15" y="374.83" font-size="7.0" fill="#262626" font-style="italic" text-anchor="middle" textLength="11.38" lengthAdjust="spacingAndGlyphs" >ifnb2</text>
<rect x="455.92" y="368.75" width="9.88" height="6.70" fill="url(#rg)" stroke="#ff0000" stroke-width="0.8" />
<line x1="465.80" y1="368.65" x2="465.80" y2="375.55" stroke="#333" stroke-width="0.7" stroke-dasharray="0.8,0.8"/>
<text x="482.00" y="374.63" font-size="6.8" fill="#1a1a1a" text-anchor="end" textLength="14.46" lengthAdjust="spacingAndGlyphs" >-0,325</text>
<text x="520.45" y="374.63" font-size="6.8" fill="#111" font-weight="bold" text-anchor="middle" textLength="30.89" lengthAdjust="spacingAndGlyphs" >Inflammation</text>
<text x="433.15" y="384.68" font-size="7.0" fill="#262626" font-style="italic" text-anchor="middle" textLength="16.05" lengthAdjust="spacingAndGlyphs" >hmgb1</text>
<rect x="453.94" y="378.60" width="11.86" height="6.70" fill="url(#rg)" stroke="#ff0000" stroke-width="0.8" />
<line x1="465.80" y1="378.50" x2="465.80" y2="385.40" stroke="#333" stroke-width="0.7" stroke-dasharray="0.8,0.8"/>
<text x="482.00" y="384.48" font-size="6.8" fill="#1a1a1a" text-anchor="end" textLength="14.46" lengthAdjust="spacingAndGlyphs" >-0,390</text>
<text x="520.45" y="384.48" font-size="6.8" fill="#111" font-weight="bold" text-anchor="middle" textLength="14.34" lengthAdjust="spacingAndGlyphs" >RAGE</text>
<text x="433.15" y="394.53" font-size="7.0" fill="#262626" font-style="italic" text-anchor="middle" textLength="11.09" lengthAdjust="spacingAndGlyphs" >txnip</text>
<rect x="453.79" y="388.46" width="12.01" height="6.70" fill="url(#rg)" stroke="#ff0000" stroke-width="0.8" />
<line x1="465.80" y1="388.36" x2="465.80" y2="395.26" stroke="#333" stroke-width="0.7" stroke-dasharray="0.8,0.8"/>
<text x="482.00" y="394.33" font-size="6.8" fill="#1a1a1a" text-anchor="end" textLength="14.46" lengthAdjust="spacingAndGlyphs" >-0,395</text>
<text x="520.45" y="394.33" font-size="6.8" fill="#111" font-weight="bold" text-anchor="middle" textLength="7.45" lengthAdjust="spacingAndGlyphs" >AO</text>
<text x="478.70" y="39.90" font-size="8.6" fill="#000" font-weight="bold" text-anchor="middle" textLength="25.80" lengthAdjust="spacingAndGlyphs" >Factor 1</text>
<line x1="413.00" y1="41.60" x2="544.40" y2="41.60" stroke="#000" stroke-width="1.5" />
<rect x="413.80" y="32.20" width="129.80" height="364.20" fill="none" stroke="#111" stroke-width="1.6" />
<rect x="553.80" y="31.40" width="131.40" height="365.00" fill="#ffffff" />
<rect x="553.80" y="32.60" width="131.40" height="8.40" fill="#d9d9d9" />
<rect x="553.80" y="42.30" width="131.40" height="8.95" fill="#f2f2f2" />
<rect x="553.80" y="52.15" width="131.40" height="8.95" fill="#f2f2f2" />
<rect x="553.80" y="62.01" width="131.40" height="8.95" fill="#f2f2f2" />
<rect x="553.80" y="71.86" width="131.40" height="8.95" fill="#f2f2f2" />
<rect x="553.80" y="81.71" width="131.40" height="8.95" fill="#f2f2f2" />
<rect x="553.80" y="91.56" width="131.40" height="8.95" fill="#f2f2f2" />
<rect x="553.80" y="101.42" width="131.40" height="8.95" fill="#f2f2f2" />
<rect x="553.80" y="111.27" width="131.40" height="8.95" fill="#f2f2f2" />
<rect x="553.80" y="121.12" width="131.40" height="8.95" fill="#f2f2f2" />
<rect x="553.80" y="130.98" width="131.40" height="8.95" fill="#f2f2f2" />
<rect x="553.80" y="140.83" width="131.40" height="8.95" fill="#f2f2f2" />
<rect x="553.80" y="150.68" width="131.40" height="8.95" fill="#f2f2f2" />
<rect x="553.80" y="160.54" width="131.40" height="8.95" fill="#f2f2f2" />
<rect x="553.80" y="170.39" width="131.40" height="8.95" fill="#f2f2f2" />
<rect x="553.80" y="180.24" width="131.40" height="8.95" fill="#f2f2f2" />
<rect x="553.80" y="190.09" width="131.40" height="8.95" fill="#f2f2f2" />
<rect x="553.80" y="199.95" width="131.40" height="8.95" fill="#f2f2f2" />
<rect x="553.80" y="209.80" width="131.40" height="8.95" fill="#f2f2f2" />
<rect x="553.80" y="219.65" width="131.40" height="8.95" fill="#f2f2f2" />
<rect x="553.80" y="229.51" width="131.40" height="8.95" fill="#f2f2f2" />
<rect x="553.80" y="239.36" width="131.40" height="8.95" fill="#f2f2f2" />
<rect x="553.80" y="249.21" width="131.40" height="8.95" fill="#f2f2f2" />
<rect x="553.80" y="259.07" width="131.40" height="8.95" fill="#f2f2f2" />
<rect x="553.80" y="268.92" width="131.40" height="8.95" fill="#f2f2f2" />
<rect x="553.80" y="278.77" width="131.40" height="8.95" fill="#f2f2f2" />
<rect x="553.80" y="288.62" width="131.40" height="8.95" fill="#f2f2f2" />
<rect x="553.80" y="298.48" width="131.40" height="8.95" fill="#f2f2f2" />
<rect x="553.80" y="308.33" width="131.40" height="8.95" fill="#f2f2f2" />
<rect x="553.80" y="318.18" width="131.40" height="8.95" fill="#f2f2f2" />
<rect x="553.80" y="328.04" width="131.40" height="8.95" fill="#f2f2f2" />
<rect x="553.80" y="337.89" width="131.40" height="8.95" fill="#f2f2f2" />
<rect x="553.80" y="347.74" width="131.40" height="8.95" fill="#f2f2f2" />
<rect x="553.80" y="357.60" width="131.40" height="8.95" fill="#f2f2f2" />
<rect x="553.80" y="367.45" width="131.40" height="8.95" fill="#f2f2f2" />
<rect x="553.80" y="377.30" width="131.40" height="8.95" fill="#f2f2f2" />
<rect x="553.80" y="387.16" width="131.40" height="8.95" fill="#f2f2f2" />
<rect x="593.85" y="42.30" width="0.90" height="354.10" fill="#ffffff" />
<rect x="637.05" y="42.30" width="0.90" height="354.10" fill="#ffffff" />
<text x="574.05" y="49.68" font-size="7.0" fill="#262626" font-style="italic" text-anchor="middle" textLength="18.97" lengthAdjust="spacingAndGlyphs" >adam10</text>
<rect x="602.80" y="43.60" width="33.87" height="6.70" fill="url(#gg)" stroke="#63be7b" stroke-width="0.8" />
<line x1="602.80" y1="43.50" x2="602.80" y2="50.40" stroke="#333" stroke-width="0.7" stroke-dasharray="0.8,0.8"/>
<text x="623.20" y="49.48" font-size="6.8" fill="#1a1a1a" text-anchor="end" textLength="12.76" lengthAdjust="spacingAndGlyphs" >0,795</text>
<text x="661.35" y="49.48" font-size="6.8" fill="#111" font-weight="bold" text-anchor="middle" textLength="14.34" lengthAdjust="spacingAndGlyphs" >MMPs</text>
<text x="574.05" y="59.53" font-size="7.0" fill="#262626" font-style="italic" text-anchor="middle" textLength="14.60" lengthAdjust="spacingAndGlyphs" >ep300</text>
<rect x="602.80" y="53.45" width="29.86" height="6.70" fill="url(#gg)" stroke="#63be7b" stroke-width="0.8" />
<line x1="602.80" y1="53.35" x2="602.80" y2="60.25" stroke="#333" stroke-width="0.7" stroke-dasharray="0.8,0.8"/>
<text x="623.20" y="59.33" font-size="6.8" fill="#1a1a1a" text-anchor="end" textLength="12.76" lengthAdjust="spacingAndGlyphs" >0,701</text>
<text x="661.35" y="59.33" font-size="6.8" fill="#111" font-weight="bold" text-anchor="middle" textLength="13.79" lengthAdjust="spacingAndGlyphs" >BDNF</text>
<text x="574.05" y="69.38" font-size="7.0" fill="#262626" font-style="italic" text-anchor="middle" textLength="20.14" lengthAdjust="spacingAndGlyphs" >adamts1</text>
<rect x="602.80" y="63.31" width="29.05" height="6.70" fill="url(#gg)" stroke="#63be7b" stroke-width="0.8" />
<line x1="602.80" y1="63.21" x2="602.80" y2="70.11" stroke="#333" stroke-width="0.7" stroke-dasharray="0.8,0.8"/>
<text x="623.20" y="69.18" font-size="6.8" fill="#1a1a1a" text-anchor="end" textLength="12.76" lengthAdjust="spacingAndGlyphs" >0,682</text>
<text x="661.35" y="69.18" font-size="6.8" fill="#111" font-weight="bold" text-anchor="middle" textLength="14.34" lengthAdjust="spacingAndGlyphs" >MMPs</text>
<text x="574.05" y="79.24" font-size="7.0" fill="#262626" font-style="italic" text-anchor="middle" textLength="18.10" lengthAdjust="spacingAndGlyphs" >slc12a2</text>
<rect x="602.80" y="73.16" width="28.93" height="6.70" fill="url(#gg)" stroke="#63be7b" stroke-width="0.8" />
<line x1="602.80" y1="73.06" x2="602.80" y2="79.96" stroke="#333" stroke-width="0.7" stroke-dasharray="0.8,0.8"/>
<text x="623.20" y="79.04" font-size="6.8" fill="#1a1a1a" text-anchor="end" textLength="12.76" lengthAdjust="spacingAndGlyphs" >0,679</text>
<text x="661.35" y="79.04" font-size="6.8" fill="#111" font-weight="bold" text-anchor="middle" textLength="14.62" lengthAdjust="spacingAndGlyphs" >GABA</text>
<text x="574.05" y="89.09" font-size="7.0" fill="#262626" font-style="italic" text-anchor="middle" textLength="11.38" lengthAdjust="spacingAndGlyphs" >crtc1</text>
<rect x="602.80" y="83.01" width="28.07" height="6.70" fill="url(#gg)" stroke="#63be7b" stroke-width="0.8" />
<line x1="602.80" y1="82.91" x2="602.80" y2="89.81" stroke="#333" stroke-width="0.7" stroke-dasharray="0.8,0.8"/>
<text x="623.20" y="88.89" font-size="6.8" fill="#1a1a1a" text-anchor="end" textLength="12.76" lengthAdjust="spacingAndGlyphs" >0,659</text>
<text x="661.35" y="88.89" font-size="6.8" fill="#111" font-weight="bold" text-anchor="middle" textLength="13.79" lengthAdjust="spacingAndGlyphs" >BDNF</text>
<text x="574.05" y="98.94" font-size="7.0" fill="#262626" font-style="italic" text-anchor="middle" textLength="11.38" lengthAdjust="spacingAndGlyphs" >hif1a</text>
<rect x="602.80" y="92.86" width="26.03" height="6.70" fill="url(#gg)" stroke="#63be7b" stroke-width="0.8" />
<line x1="602.80" y1="92.77" x2="602.80" y2="99.66" stroke="#333" stroke-width="0.7" stroke-dasharray="0.8,0.8"/>
<text x="623.20" y="98.74" font-size="6.8" fill="#1a1a1a" text-anchor="end" textLength="12.38" lengthAdjust="spacingAndGlyphs" >0,611</text>
<text x="661.35" y="98.74" font-size="6.8" fill="#111" font-weight="bold" text-anchor="middle" textLength="7.45" lengthAdjust="spacingAndGlyphs" >AO</text>
<text x="574.05" y="108.79" font-size="7.0" fill="#262626" font-style="italic" text-anchor="middle" textLength="17.51" lengthAdjust="spacingAndGlyphs" >es ager</text>
<rect x="602.80" y="102.72" width="25.52" height="6.70" fill="url(#gg)" stroke="#63be7b" stroke-width="0.8" />
<line x1="602.80" y1="102.62" x2="602.80" y2="109.52" stroke="#333" stroke-width="0.7" stroke-dasharray="0.8,0.8"/>
<text x="623.20" y="108.59" font-size="6.8" fill="#1a1a1a" text-anchor="end" textLength="12.76" lengthAdjust="spacingAndGlyphs" >0,599</text>
<text x="661.35" y="108.59" font-size="6.8" fill="#111" font-weight="bold" text-anchor="middle" textLength="14.34" lengthAdjust="spacingAndGlyphs" >RAGE</text>
<text x="574.05" y="118.65" font-size="7.0" fill="#262626" font-style="italic" text-anchor="middle" textLength="16.34" lengthAdjust="spacingAndGlyphs" >nt ager</text>
<rect x="602.80" y="112.57" width="25.39" height="6.70" fill="url(#gg)" stroke="#63be7b" stroke-width="0.8" />
<line x1="602.80" y1="112.47" x2="602.80" y2="119.37" stroke="#333" stroke-width="0.7" stroke-dasharray="0.8,0.8"/>
<text x="623.20" y="118.45" font-size="6.8" fill="#1a1a1a" text-anchor="end" textLength="12.76" lengthAdjust="spacingAndGlyphs" >0,596</text>
<text x="661.35" y="118.45" font-size="6.8" fill="#111" font-weight="bold" text-anchor="middle" textLength="14.34" lengthAdjust="spacingAndGlyphs" >RAGE</text>
<text x="574.05" y="128.50" font-size="7.0" fill="#262626" font-style="italic" text-anchor="middle" textLength="8.46" lengthAdjust="spacingAndGlyphs" >c4a</text>
<rect x="602.80" y="122.42" width="25.18" height="6.70" fill="url(#gg)" stroke="#63be7b" stroke-width="0.8" />
<line x1="602.80" y1="122.32" x2="602.80" y2="129.22" stroke="#333" stroke-width="0.7" stroke-dasharray="0.8,0.8"/>
<text x="623.20" y="128.30" font-size="6.8" fill="#1a1a1a" text-anchor="end" textLength="12.76" lengthAdjust="spacingAndGlyphs" >0,591</text>
<text x="661.35" y="128.30" font-size="6.8" fill="#111" font-weight="bold" text-anchor="middle" textLength="30.06" lengthAdjust="spacingAndGlyphs" >Complement</text>
<text x="574.05" y="138.35" font-size="7.0" fill="#262626" font-style="italic" text-anchor="middle" textLength="23.35" lengthAdjust="spacingAndGlyphs" >delta ager</text>
<rect x="602.80" y="132.28" width="24.11" height="6.70" fill="url(#gg)" stroke="#63be7b" stroke-width="0.8" />
<line x1="602.80" y1="132.18" x2="602.80" y2="139.08" stroke="#333" stroke-width="0.7" stroke-dasharray="0.8,0.8"/>
<text x="623.20" y="138.15" font-size="6.8" fill="#1a1a1a" text-anchor="end" textLength="12.76" lengthAdjust="spacingAndGlyphs" >0,566</text>
<text x="661.35" y="138.15" font-size="6.8" fill="#111" font-weight="bold" text-anchor="middle" textLength="14.34" lengthAdjust="spacingAndGlyphs" >RAGE</text>
<text x="574.05" y="148.21" font-size="7.0" fill="#262626" font-style="italic" text-anchor="middle" textLength="12.84" lengthAdjust="spacingAndGlyphs" >nfkb2</text>
<rect x="602.80" y="142.13" width="23.26" height="6.70" fill="url(#gg)" stroke="#63be7b" stroke-width="0.8" />
<line x1="602.80" y1="142.03" x2="602.80" y2="148.93" stroke="#333" stroke-width="0.7" stroke-dasharray="0.8,0.8"/>
<text x="623.20" y="148.01" font-size="6.8" fill="#1a1a1a" text-anchor="end" textLength="12.76" lengthAdjust="spacingAndGlyphs" >0,546</text>
<text x="661.35" y="148.01" font-size="6.8" fill="#111" font-weight="bold" text-anchor="middle" textLength="30.89" lengthAdjust="spacingAndGlyphs" >Inflammation</text>
<text x="574.05" y="158.06" font-size="7.0" fill="#262626" font-style="italic" text-anchor="middle" textLength="11.38" lengthAdjust="spacingAndGlyphs" >lta4h</text>
<rect x="602.80" y="151.98" width="22.62" height="6.70" fill="url(#gg)" stroke="#63be7b" stroke-width="0.8" />
<line x1="602.80" y1="151.88" x2="602.80" y2="158.78" stroke="#333" stroke-width="0.7" stroke-dasharray="0.8,0.8"/>
<text x="623.20" y="157.86" font-size="6.8" fill="#1a1a1a" text-anchor="end" textLength="12.76" lengthAdjust="spacingAndGlyphs" >0,531</text>
<text x="661.35" y="157.86" font-size="6.8" fill="#111" font-weight="bold" text-anchor="middle" textLength="20.96" lengthAdjust="spacingAndGlyphs" >Collagen</text>
<text x="574.05" y="167.91" font-size="7.0" fill="#262626" font-style="italic" text-anchor="middle" textLength="13.13" lengthAdjust="spacingAndGlyphs" >creb1</text>
<rect x="602.80" y="161.84" width="22.62" height="6.70" fill="url(#gg)" stroke="#63be7b" stroke-width="0.8" />
<line x1="602.80" y1="161.74" x2="602.80" y2="168.64" stroke="#333" stroke-width="0.7" stroke-dasharray="0.8,0.8"/>
<text x="623.20" y="167.71" font-size="6.8" fill="#1a1a1a" text-anchor="end" textLength="12.76" lengthAdjust="spacingAndGlyphs" >0,531</text>
<text x="661.35" y="167.71" font-size="6.8" fill="#111" font-weight="bold" text-anchor="middle" textLength="13.79" lengthAdjust="spacingAndGlyphs" >BDNF</text>
<text x="574.05" y="177.77" font-size="7.0" fill="#262626" font-style="italic" text-anchor="middle" textLength="12.84" lengthAdjust="spacingAndGlyphs" >oxsr1</text>
<rect x="602.80" y="171.69" width="22.37" height="6.70" fill="url(#gg)" stroke="#63be7b" stroke-width="0.8" />
<line x1="602.80" y1="171.59" x2="602.80" y2="178.49" stroke="#333" stroke-width="0.7" stroke-dasharray="0.8,0.8"/>
<text x="623.20" y="177.57" font-size="6.8" fill="#1a1a1a" text-anchor="end" textLength="12.76" lengthAdjust="spacingAndGlyphs" >0,525</text>
<text x="661.35" y="177.57" font-size="6.8" fill="#111" font-weight="bold" text-anchor="middle" textLength="14.62" lengthAdjust="spacingAndGlyphs" >GABA</text>
<text x="574.05" y="187.62" font-size="7.0" fill="#262626" font-style="italic" text-anchor="middle" textLength="12.84" lengthAdjust="spacingAndGlyphs" >nfkb1</text>
<rect x="602.80" y="181.54" width="22.28" height="6.70" fill="url(#gg)" stroke="#63be7b" stroke-width="0.8" />
<line x1="602.80" y1="181.44" x2="602.80" y2="188.34" stroke="#333" stroke-width="0.7" stroke-dasharray="0.8,0.8"/>
<text x="623.20" y="187.42" font-size="6.8" fill="#1a1a1a" text-anchor="end" textLength="12.76" lengthAdjust="spacingAndGlyphs" >0,523</text>
<text x="661.35" y="187.42" font-size="6.8" fill="#111" font-weight="bold" text-anchor="middle" textLength="30.89" lengthAdjust="spacingAndGlyphs" >Inflammation</text>
<text x="574.05" y="197.47" font-size="7.0" fill="#262626" font-style="italic" text-anchor="middle" textLength="12.55" lengthAdjust="spacingAndGlyphs" >stk39</text>
<rect x="602.80" y="191.39" width="22.15" height="6.70" fill="url(#gg)" stroke="#63be7b" stroke-width="0.8" />
<line x1="602.80" y1="191.29" x2="602.80" y2="198.19" stroke="#333" stroke-width="0.7" stroke-dasharray="0.8,0.8"/>
<text x="623.20" y="197.27" font-size="6.8" fill="#1a1a1a" text-anchor="end" textLength="12.76" lengthAdjust="spacingAndGlyphs" >0,520</text>
<text x="661.35" y="197.27" font-size="6.8" fill="#111" font-weight="bold" text-anchor="middle" textLength="14.62" lengthAdjust="spacingAndGlyphs" >GABA</text>
<text x="574.05" y="217.18" font-size="7.0" fill="#262626" font-style="italic" text-anchor="middle" textLength="9.34" lengthAdjust="spacingAndGlyphs" >gclc</text>
<rect x="602.80" y="211.10" width="5.92" height="6.70" fill="url(#gg)" stroke="#63be7b" stroke-width="0.8" />
<line x1="602.80" y1="211.00" x2="602.80" y2="217.90" stroke="#333" stroke-width="0.7" stroke-dasharray="0.8,0.8"/>
<text x="623.20" y="216.98" font-size="6.8" fill="#1a1a1a" text-anchor="end" textLength="12.76" lengthAdjust="spacingAndGlyphs" >0,139</text>
<text x="661.35" y="216.98" font-size="6.8" fill="#111" font-weight="bold" text-anchor="middle" textLength="10.76" lengthAdjust="spacingAndGlyphs" >GSH</text>
<text x="574.05" y="227.03" font-size="7.0" fill="#262626" font-style="italic" text-anchor="middle" textLength="7.00" lengthAdjust="spacingAndGlyphs" >mif</text>
<rect x="602.80" y="220.95" width="5.58" height="6.70" fill="url(#gg)" stroke="#63be7b" stroke-width="0.8" />
<line x1="602.80" y1="220.85" x2="602.80" y2="227.75" stroke="#333" stroke-width="0.7" stroke-dasharray="0.8,0.8"/>
<text x="623.20" y="226.83" font-size="6.8" fill="#1a1a1a" text-anchor="end" textLength="12.76" lengthAdjust="spacingAndGlyphs" >0,131</text>
<text x="661.35" y="226.83" font-size="6.8" fill="#111" font-weight="bold" text-anchor="middle" textLength="30.89" lengthAdjust="spacingAndGlyphs" >Inflammation</text>
<text x="574.05" y="236.88" font-size="7.0" fill="#262626" font-style="italic" text-anchor="middle" textLength="16.05" lengthAdjust="spacingAndGlyphs" >hmgb1</text>
<rect x="602.80" y="230.81" width="5.54" height="6.70" fill="url(#gg)" stroke="#63be7b" stroke-width="0.8" />
<line x1="602.80" y1="230.71" x2="602.80" y2="237.61" stroke="#333" stroke-width="0.7" stroke-dasharray="0.8,0.8"/>
<text x="623.20" y="236.68" font-size="6.8" fill="#1a1a1a" text-anchor="end" textLength="12.76" lengthAdjust="spacingAndGlyphs" >0,130</text>
<text x="661.35" y="236.68" font-size="6.8" fill="#111" font-weight="bold" text-anchor="middle" textLength="14.34" lengthAdjust="spacingAndGlyphs" >RAGE</text>
<text x="574.05" y="246.74" font-size="7.0" fill="#262626" font-style="italic" text-anchor="middle" textLength="12.84" lengthAdjust="spacingAndGlyphs" >itgam</text>
<rect x="602.80" y="240.66" width="4.69" height="6.70" fill="url(#gg)" stroke="#63be7b" stroke-width="0.8" />
<line x1="602.80" y1="240.56" x2="602.80" y2="247.46" stroke="#333" stroke-width="0.7" stroke-dasharray="0.8,0.8"/>
<text x="623.20" y="246.54" font-size="6.8" fill="#1a1a1a" text-anchor="end" textLength="12.38" lengthAdjust="spacingAndGlyphs" >0,110</text>
<text x="661.35" y="246.54" font-size="6.8" fill="#111" font-weight="bold" text-anchor="middle" textLength="30.06" lengthAdjust="spacingAndGlyphs" >Complement</text>
<text x="574.05" y="256.59" font-size="7.0" fill="#262626" font-style="italic" text-anchor="middle" textLength="5.84" lengthAdjust="spacingAndGlyphs" >tnf</text>
<rect x="602.80" y="250.51" width="3.92" height="6.70" fill="url(#gg)" stroke="#63be7b" stroke-width="0.8" />
<line x1="602.80" y1="250.41" x2="602.80" y2="257.31" stroke="#333" stroke-width="0.7" stroke-dasharray="0.8,0.8"/>
<text x="623.20" y="256.39" font-size="6.8" fill="#1a1a1a" text-anchor="end" textLength="12.76" lengthAdjust="spacingAndGlyphs" >0,092</text>
<text x="661.35" y="256.39" font-size="6.8" fill="#111" font-weight="bold" text-anchor="middle" textLength="30.89" lengthAdjust="spacingAndGlyphs" >Inflammation</text>
<text x="574.05" y="266.44" font-size="7.0" fill="#262626" font-style="italic" text-anchor="middle" textLength="7.29" lengthAdjust="spacingAndGlyphs" >gsr</text>
<rect x="602.80" y="260.37" width="3.58" height="6.70" fill="url(#gg)" stroke="#63be7b" stroke-width="0.8" />
<line x1="602.80" y1="260.27" x2="602.80" y2="267.17" stroke="#333" stroke-width="0.7" stroke-dasharray="0.8,0.8"/>
<text x="623.20" y="266.24" font-size="6.8" fill="#1a1a1a" text-anchor="end" textLength="12.76" lengthAdjust="spacingAndGlyphs" >0,084</text>
<text x="661.35" y="266.24" font-size="6.8" fill="#111" font-weight="bold" text-anchor="middle" textLength="10.76" lengthAdjust="spacingAndGlyphs" >GSH</text>
<text x="574.05" y="276.30" font-size="7.0" fill="#262626" font-style="italic" text-anchor="middle" textLength="8.17" lengthAdjust="spacingAndGlyphs" >il1b</text>
<rect x="602.80" y="270.22" width="3.37" height="6.70" fill="url(#gg)" stroke="#63be7b" stroke-width="0.8" />
<line x1="602.80" y1="270.12" x2="602.80" y2="277.02" stroke="#333" stroke-width="0.7" stroke-dasharray="0.8,0.8"/>
<text x="623.20" y="276.10" font-size="6.8" fill="#1a1a1a" text-anchor="end" textLength="12.76" lengthAdjust="spacingAndGlyphs" >0,079</text>
<text x="661.35" y="276.10" font-size="6.8" fill="#111" font-weight="bold" text-anchor="middle" textLength="30.89" lengthAdjust="spacingAndGlyphs" >Inflammation</text>
<text x="574.05" y="286.15" font-size="7.0" fill="#262626" font-style="italic" text-anchor="middle" textLength="14.59" lengthAdjust="spacingAndGlyphs" >agmat</text>
<rect x="602.80" y="280.07" width="2.85" height="6.70" fill="url(#gg)" stroke="#63be7b" stroke-width="0.8" />
<line x1="602.80" y1="279.97" x2="602.80" y2="286.87" stroke="#333" stroke-width="0.7" stroke-dasharray="0.8,0.8"/>
<text x="623.20" y="285.95" font-size="6.8" fill="#1a1a1a" text-anchor="end" textLength="12.76" lengthAdjust="spacingAndGlyphs" >0,067</text>
<text x="661.35" y="285.95" font-size="6.8" fill="#111" font-weight="bold" text-anchor="middle" textLength="20.13" lengthAdjust="spacingAndGlyphs" >Arginine</text>
<text x="574.05" y="296.00" font-size="7.0" fill="#262626" font-style="italic" text-anchor="middle" textLength="17.71" lengthAdjust="spacingAndGlyphs" >slc7a11</text>
<rect x="602.80" y="289.93" width="2.68" height="6.70" fill="url(#gg)" stroke="#63be7b" stroke-width="0.8" />
<line x1="602.80" y1="289.82" x2="602.80" y2="296.73" stroke="#333" stroke-width="0.7" stroke-dasharray="0.8,0.8"/>
<text x="623.20" y="295.80" font-size="6.8" fill="#1a1a1a" text-anchor="end" textLength="12.76" lengthAdjust="spacingAndGlyphs" >0,063</text>
<text x="661.35" y="295.80" font-size="6.8" fill="#111" font-weight="bold" text-anchor="middle" textLength="10.76" lengthAdjust="spacingAndGlyphs" >GSH</text>
<text x="574.05" y="305.85" font-size="7.0" fill="#262626" font-style="italic" text-anchor="middle" textLength="14.59" lengthAdjust="spacingAndGlyphs" >txnrd1</text>
<rect x="602.80" y="299.78" width="2.56" height="6.70" fill="url(#gg)" stroke="#63be7b" stroke-width="0.8" />
<line x1="602.80" y1="299.68" x2="602.80" y2="306.58" stroke="#333" stroke-width="0.7" stroke-dasharray="0.8,0.8"/>
<text x="623.20" y="305.65" font-size="6.8" fill="#1a1a1a" text-anchor="end" textLength="12.76" lengthAdjust="spacingAndGlyphs" >0,060</text>
<text x="661.35" y="305.65" font-size="6.8" fill="#111" font-weight="bold" text-anchor="middle" textLength="7.45" lengthAdjust="spacingAndGlyphs" >AO</text>
<text x="574.05" y="315.71" font-size="7.0" fill="#262626" font-style="italic" text-anchor="middle" textLength="14.59" lengthAdjust="spacingAndGlyphs" >mmp3</text>
<rect x="602.80" y="309.63" width="2.13" height="6.70" fill="url(#gg)" stroke="#63be7b" stroke-width="0.8" />
<line x1="602.80" y1="309.53" x2="602.80" y2="316.43" stroke="#333" stroke-width="0.7" stroke-dasharray="0.8,0.8"/>
<text x="623.20" y="315.51" font-size="6.8" fill="#1a1a1a" text-anchor="end" textLength="12.76" lengthAdjust="spacingAndGlyphs" >0,050</text>
<text x="661.35" y="315.51" font-size="6.8" fill="#111" font-weight="bold" text-anchor="middle" textLength="14.34" lengthAdjust="spacingAndGlyphs" >MMPs</text>
<text x="574.05" y="325.56" font-size="7.0" fill="#262626" font-style="italic" text-anchor="middle" textLength="11.38" lengthAdjust="spacingAndGlyphs" >sod1</text>
<rect x="602.80" y="319.48" width="1.92" height="6.70" fill="url(#gg)" stroke="#63be7b" stroke-width="0.8" />
<line x1="602.80" y1="319.38" x2="602.80" y2="326.28" stroke="#333" stroke-width="0.7" stroke-dasharray="0.8,0.8"/>
<text x="623.20" y="325.36" font-size="6.8" fill="#1a1a1a" text-anchor="end" textLength="12.76" lengthAdjust="spacingAndGlyphs" >0,045</text>
<text x="661.35" y="325.36" font-size="6.8" fill="#111" font-weight="bold" text-anchor="middle" textLength="7.45" lengthAdjust="spacingAndGlyphs" >AO</text>
<text x="574.05" y="335.41" font-size="7.0" fill="#262626" font-style="italic" text-anchor="middle" textLength="11.68" lengthAdjust="spacingAndGlyphs" >nqo1</text>
<rect x="602.80" y="329.34" width="1.70" height="6.70" fill="url(#gg)" stroke="#63be7b" stroke-width="0.8" />
<line x1="602.80" y1="329.24" x2="602.80" y2="336.14" stroke="#333" stroke-width="0.7" stroke-dasharray="0.8,0.8"/>
<text x="623.20" y="335.21" font-size="6.8" fill="#1a1a1a" text-anchor="end" textLength="12.76" lengthAdjust="spacingAndGlyphs" >0,040</text>
<text x="661.35" y="335.21" font-size="6.8" fill="#111" font-weight="bold" text-anchor="middle" textLength="7.45" lengthAdjust="spacingAndGlyphs" >AO</text>
<text x="574.05" y="345.27" font-size="7.0" fill="#262626" font-style="italic" text-anchor="middle" textLength="14.30" lengthAdjust="spacingAndGlyphs" >hspa7</text>
<line x1="602.80" y1="339.09" x2="602.80" y2="345.99" stroke="#333" stroke-width="0.7" stroke-dasharray="0.8,0.8"/>
<text x="623.20" y="345.07" font-size="6.8" fill="#1a1a1a" text-anchor="end" textLength="12.76" lengthAdjust="spacingAndGlyphs" >0,006</text>
<text x="661.35" y="345.07" font-size="6.8" fill="#111" font-weight="bold" text-anchor="middle" textLength="30.89" lengthAdjust="spacingAndGlyphs" >Inflammation</text>
<text x="574.05" y="355.12" font-size="7.0" fill="#262626" font-style="italic" text-anchor="middle" textLength="11.08" lengthAdjust="spacingAndGlyphs" >gclm</text>
<line x1="602.80" y1="348.94" x2="602.80" y2="355.84" stroke="#333" stroke-width="0.7" stroke-dasharray="0.8,0.8"/>
<text x="623.20" y="354.92" font-size="6.8" fill="#1a1a1a" text-anchor="end" textLength="12.76" lengthAdjust="spacingAndGlyphs" >0,001</text>
<text x="661.35" y="354.92" font-size="6.8" fill="#111" font-weight="bold" text-anchor="middle" textLength="10.76" lengthAdjust="spacingAndGlyphs" >GSH</text>
<text x="574.05" y="364.97" font-size="7.0" fill="#262626" font-style="italic" text-anchor="middle" textLength="10.22" lengthAdjust="spacingAndGlyphs" >bdnf</text>
<line x1="602.80" y1="358.80" x2="602.80" y2="365.70" stroke="#333" stroke-width="0.7" stroke-dasharray="0.8,0.8"/>
<text x="623.20" y="364.77" font-size="6.8" fill="#1a1a1a" text-anchor="end" textLength="12.76" lengthAdjust="spacingAndGlyphs" >0,000</text>
<text x="661.35" y="364.77" font-size="6.8" fill="#111" font-weight="bold" text-anchor="middle" textLength="13.79" lengthAdjust="spacingAndGlyphs" >BDNF</text>
<text x="574.05" y="374.83" font-size="7.0" fill="#262626" font-style="italic" text-anchor="middle" textLength="12.84" lengthAdjust="spacingAndGlyphs" >srxn1</text>
<rect x="601.69" y="368.75" width="1.11" height="6.70" fill="url(#rg)" stroke="#ff0000" stroke-width="0.8" />
<line x1="602.80" y1="368.65" x2="602.80" y2="375.55" stroke="#333" stroke-width="0.7" stroke-dasharray="0.8,0.8"/>
<text x="623.20" y="374.63" font-size="6.8" fill="#1a1a1a" text-anchor="end" textLength="14.46" lengthAdjust="spacingAndGlyphs" >-0,026</text>
<text x="661.35" y="374.63" font-size="6.8" fill="#111" font-weight="bold" text-anchor="middle" textLength="7.45" lengthAdjust="spacingAndGlyphs" >AO</text>
<text x="574.05" y="384.68" font-size="7.0" fill="#262626" font-style="italic" text-anchor="middle" textLength="12.85" lengthAdjust="spacingAndGlyphs" >aldh2</text>
<rect x="598.97" y="378.60" width="3.83" height="6.70" fill="url(#rg)" stroke="#ff0000" stroke-width="0.8" />
<line x1="602.80" y1="378.50" x2="602.80" y2="385.40" stroke="#333" stroke-width="0.7" stroke-dasharray="0.8,0.8"/>
<text x="623.20" y="384.48" font-size="6.8" fill="#1a1a1a" text-anchor="end" textLength="14.46" lengthAdjust="spacingAndGlyphs" >-0,090</text>
<text x="661.35" y="384.48" font-size="6.8" fill="#111" font-weight="bold" text-anchor="middle" textLength="20.13" lengthAdjust="spacingAndGlyphs" >Arginine</text>
<text x="574.05" y="394.53" font-size="7.0" fill="#262626" font-style="italic" text-anchor="middle" textLength="7.00" lengthAdjust="spacingAndGlyphs" >txn</text>
<rect x="595.34" y="388.46" width="7.46" height="6.70" fill="url(#rg)" stroke="#ff0000" stroke-width="0.8" />
<line x1="602.80" y1="388.36" x2="602.80" y2="395.26" stroke="#333" stroke-width="0.7" stroke-dasharray="0.8,0.8"/>
<text x="623.20" y="394.33" font-size="6.8" fill="#1a1a1a" text-anchor="end" textLength="14.46" lengthAdjust="spacingAndGlyphs" >-0,175</text>
<text x="661.35" y="394.33" font-size="6.8" fill="#111" font-weight="bold" text-anchor="middle" textLength="7.45" lengthAdjust="spacingAndGlyphs" >AO</text>
<text x="619.50" y="39.90" font-size="8.6" fill="#000" font-weight="bold" text-anchor="middle" textLength="26.20" lengthAdjust="spacingAndGlyphs" >Factor 2</text>
<line x1="553.80" y1="41.60" x2="685.20" y2="41.60" stroke="#000" stroke-width="1.5" />
<rect x="554.60" y="32.20" width="129.80" height="364.20" fill="none" stroke="#111" stroke-width="1.6" />
<text x="7.00" y="440.40" font-size="22" fill="#000" stroke="#000" stroke-width="0.3" textLength="16.40" lengthAdjust="spacingAndGlyphs" >B.</text>
<circle cx="33.2" cy="481.0" r="1.3" fill="#5b95c9"/>
<circle cx="43.8" cy="478.1" r="1.3" fill="#5b95c9"/>
<circle cx="47.4" cy="479.6" r="1.3" fill="#5b95c9"/>
<circle cx="44.2" cy="496.5" r="1.3" fill="#5b95c9"/>
<circle cx="38.5" cy="500.7" r="1.3" fill="#5b95c9"/>
<circle cx="41.6" cy="509.6" r="1.3" fill="#5b95c9"/>
<circle cx="44.2" cy="516.6" r="1.3" fill="#5b95c9"/>
<circle cx="50.9" cy="516.2" r="1.3" fill="#5b95c9"/>
<circle cx="39.5" cy="519.7" r="1.3" fill="#5b95c9"/>
<circle cx="41.0" cy="529.1" r="1.3" fill="#5b95c9"/>
<circle cx="32.8" cy="530.7" r="1.3" fill="#5b95c9"/>
<circle cx="49.0" cy="540.5" r="1.3" fill="#5b95c9"/>
<circle cx="41.8" cy="544.1" r="1.3" fill="#5b95c9"/>
<circle cx="52.8" cy="554.2" r="1.3" fill="#5b95c9"/>
<circle cx="167.9" cy="492.3" r="1.3" fill="#5b95c9"/>
<circle cx="226.5" cy="489.4" r="1.3" fill="#5b95c9"/>
<circle cx="189.9" cy="502.5" r="1.3" fill="#5b95c9"/>
<circle cx="164.1" cy="513.5" r="1.3" fill="#5b95c9"/>
<circle cx="183.8" cy="513.5" r="1.3" fill="#5b95c9"/>
<circle cx="197.1" cy="516.7" r="1.3" fill="#5b95c9"/>
<circle cx="173.6" cy="523.4" r="1.3" fill="#5b95c9"/>
<circle cx="181.6" cy="523.0" r="1.3" fill="#5b95c9"/>
<circle cx="207.6" cy="527.4" r="1.3" fill="#5b95c9"/>
<circle cx="197.7" cy="534.0" r="1.3" fill="#5b95c9"/>
<circle cx="159.7" cy="535.9" r="1.3" fill="#5b95c9"/>
<circle cx="145.1" cy="536.3" r="1.3" fill="#5b95c9"/>
<circle cx="146.6" cy="536.3" r="1.3" fill="#5b95c9"/>
<circle cx="181.2" cy="544.3" r="1.3" fill="#5b95c9"/>
<circle cx="203.8" cy="542.9" r="1.3" fill="#5b95c9"/>
<circle cx="37.0" cy="563.7" r="1.3" fill="#5b95c9"/>
<circle cx="34.5" cy="505.4" r="1.3" fill="#f7931e"/>
<circle cx="34.5" cy="518.3" r="1.3" fill="#f7931e"/>
<circle cx="121.5" cy="554.0" r="1.3" fill="#f7931e"/>
<circle cx="32.6" cy="568.0" r="1.3" fill="#f7931e"/>
<circle cx="43.3" cy="574.9" r="1.3" fill="#f7931e"/>
<circle cx="33.4" cy="576.8" r="1.3" fill="#f7931e"/>
<circle cx="39.1" cy="582.8" r="1.3" fill="#f7931e"/>
<circle cx="22.4" cy="590.8" r="1.3" fill="#f7931e"/>
<circle cx="27.9" cy="597.4" r="1.3" fill="#f7931e"/>
<circle cx="33.2" cy="599.9" r="1.3" fill="#f7931e"/>
<circle cx="31.9" cy="604.5" r="1.3" fill="#f7931e"/>
<circle cx="34.4" cy="608.3" r="1.3" fill="#f7931e"/>
<circle cx="32.3" cy="609.2" r="1.3" fill="#f7931e"/>
<circle cx="26.6" cy="617.4" r="1.3" fill="#f7931e"/>
<circle cx="36.1" cy="616.8" r="1.3" fill="#f7931e"/>
<circle cx="20.9" cy="650.2" r="1.3" fill="#f7931e"/>
<circle cx="105.7" cy="587.2" r="1.3" fill="#f7931e"/>
<circle cx="108.6" cy="588.5" r="1.3" fill="#f7931e"/>
<circle cx="109.1" cy="604.5" r="1.3" fill="#f7931e"/>
<circle cx="128.1" cy="607.9" r="1.3" fill="#f7931e"/>
<circle cx="150.8" cy="520.7" r="1.3" fill="#f7931e"/>
<circle cx="166.6" cy="530.6" r="1.3" fill="#f7931e"/>
<circle cx="121.4" cy="553.9" r="1.3" fill="#f7931e"/>
<circle cx="140.4" cy="552.6" r="1.3" fill="#f7931e"/>
<circle cx="150.8" cy="569.5" r="1.3" fill="#f7931e"/>
<circle cx="157.4" cy="571.2" r="1.3" fill="#f7931e"/>
<circle cx="154.6" cy="574.4" r="1.3" fill="#f7931e"/>
<circle cx="135.0" cy="590.8" r="1.3" fill="#f7931e"/>
<circle cx="165.0" cy="599.5" r="1.3" fill="#f7931e"/>
<circle cx="145.5" cy="603.4" r="1.3" fill="#f7931e"/>
<circle cx="128.0" cy="607.7" r="1.3" fill="#f7931e"/>
<circle cx="137.7" cy="611.2" r="1.3" fill="#f7931e"/>
<circle cx="110.0" cy="604.4" r="1.3" fill="#f7931e"/>
<ellipse cx="0" cy="0" rx="6.90" ry="32.20" transform="translate(42.70,518.30) rotate(0.00)" fill="#6492c3" fill-opacity="0.23" />
<ellipse cx="0" cy="0" rx="28.50" ry="20.00" transform="translate(180.70,522.50) rotate(-20.00)" fill="#6492c3" fill-opacity="0.23" />
<ellipse cx="0" cy="0" rx="7.00" ry="44.00" transform="translate(32.30,588.00) rotate(5.00)" fill="#f7a030" fill-opacity="0.25" />
<ellipse cx="0" cy="0" rx="21.00" ry="34.50" transform="translate(138.60,578.00) rotate(23.80)" fill="#f7a030" fill-opacity="0.25" />
<line x1="42.70" y1="518.30" x2="177.20" y2="522.51" stroke="#6d9cf3" stroke-width="0.9" />
<polygon points="180.20,522.60 177.16,523.81 177.24,521.21" fill="#6d9cf3" />
<line x1="33.20" y1="586.60" x2="136.32" y2="575.81" stroke="#f39a3a" stroke-width="0.9" />
<polygon points="139.30,575.50 136.45,577.11 136.18,574.52" fill="#f39a3a" />
<line x1="14.60" y1="483.70" x2="17.60" y2="483.70" stroke="#777" stroke-width="0.8" />
<text x="13.90" y="485.70" font-size="5.8" fill="#222" text-anchor="end" textLength="2.74" lengthAdjust="spacingAndGlyphs" >2</text>
<line x1="14.60" y1="521.40" x2="17.60" y2="521.40" stroke="#777" stroke-width="0.8" />
<text x="13.90" y="523.40" font-size="5.8" fill="#222" text-anchor="end" textLength="2.74" lengthAdjust="spacingAndGlyphs" >1</text>
<line x1="14.60" y1="559.10" x2="17.60" y2="559.10" stroke="#777" stroke-width="0.8" />
<text x="13.90" y="561.10" font-size="5.8" fill="#222" text-anchor="end" textLength="2.74" lengthAdjust="spacingAndGlyphs" >0</text>
<line x1="14.60" y1="596.80" x2="17.60" y2="596.80" stroke="#777" stroke-width="0.8" />
<text x="13.90" y="598.80" font-size="5.8" fill="#222" text-anchor="end" textLength="4.38" lengthAdjust="spacingAndGlyphs" >-1</text>
<line x1="14.60" y1="634.50" x2="17.60" y2="634.50" stroke="#777" stroke-width="0.8" />
<text x="13.90" y="636.50" font-size="5.8" fill="#222" text-anchor="end" textLength="4.38" lengthAdjust="spacingAndGlyphs" >-2</text>
<line x1="15.60" y1="502.55" x2="17.60" y2="502.55" stroke="#999" stroke-width="0.7" />
<line x1="15.60" y1="540.25" x2="17.60" y2="540.25" stroke="#999" stroke-width="0.7" />
<line x1="15.60" y1="577.95" x2="17.60" y2="577.95" stroke="#999" stroke-width="0.7" />
<line x1="15.60" y1="615.65" x2="17.60" y2="615.65" stroke="#999" stroke-width="0.7" />
<line x1="33.10" y1="654.20" x2="33.10" y2="656.80" stroke="#777" stroke-width="0.7" />
<text x="33.10" y="662.80" font-size="5.8" fill="#222" text-anchor="middle" textLength="8.20" lengthAdjust="spacingAndGlyphs" >-1,0</text>
<line x1="48.93" y1="654.20" x2="48.93" y2="655.80" stroke="#777" stroke-width="0.7" />
<line x1="64.75" y1="654.20" x2="64.75" y2="656.80" stroke="#777" stroke-width="0.7" />
<text x="64.75" y="662.80" font-size="5.8" fill="#222" text-anchor="middle" textLength="8.20" lengthAdjust="spacingAndGlyphs" >-0,5</text>
<line x1="80.58" y1="654.20" x2="80.58" y2="655.80" stroke="#777" stroke-width="0.7" />
<line x1="96.40" y1="654.20" x2="96.40" y2="656.80" stroke="#777" stroke-width="0.7" />
<text x="96.40" y="662.80" font-size="5.8" fill="#222" text-anchor="middle" textLength="6.61" lengthAdjust="spacingAndGlyphs" >0,0</text>
<line x1="112.23" y1="654.20" x2="112.23" y2="655.80" stroke="#777" stroke-width="0.7" />
<line x1="128.05" y1="654.20" x2="128.05" y2="656.80" stroke="#777" stroke-width="0.7" />
<text x="128.05" y="662.80" font-size="5.8" fill="#222" text-anchor="middle" textLength="6.61" lengthAdjust="spacingAndGlyphs" >0,5</text>
<line x1="143.88" y1="654.20" x2="143.88" y2="655.80" stroke="#777" stroke-width="0.7" />
<line x1="159.70" y1="654.20" x2="159.70" y2="656.80" stroke="#777" stroke-width="0.7" />
<text x="159.70" y="662.80" font-size="5.8" fill="#222" text-anchor="middle" textLength="6.61" lengthAdjust="spacingAndGlyphs" >1,0</text>
<line x1="175.53" y1="654.20" x2="175.53" y2="655.80" stroke="#777" stroke-width="0.7" />
<line x1="191.35" y1="654.20" x2="191.35" y2="656.80" stroke="#777" stroke-width="0.7" />
<text x="191.35" y="662.80" font-size="5.8" fill="#222" text-anchor="middle" textLength="6.61" lengthAdjust="spacingAndGlyphs" >1,5</text>
<line x1="207.18" y1="654.20" x2="207.18" y2="655.80" stroke="#777" stroke-width="0.7" />
<line x1="223.00" y1="654.20" x2="223.00" y2="656.80" stroke="#777" stroke-width="0.7" />
<text x="223.00" y="662.80" font-size="5.8" fill="#222" text-anchor="middle" textLength="6.61" lengthAdjust="spacingAndGlyphs" >2,0</text>
<text x="117.80" y="670.20" font-size="6.2" fill="#222" textLength="19.50" lengthAdjust="spacingAndGlyphs" >Factor 1</text>
<text transform="translate(6.4,569.4) rotate(-90)" font-size="6.2" fill="#222" stroke="#222" stroke-width="0.15" textLength="19.7" lengthAdjust="spacingAndGlyphs">Factor 2</text>
<rect x="17.60" y="455.30" width="219.80" height="10.00" fill="#dcdcdc" />
<line x1="17.60" y1="455.30" x2="237.40" y2="455.30" stroke="#555" stroke-width="1.0" />
<line x1="17.60" y1="465.30" x2="237.40" y2="465.30" stroke="#555" stroke-width="1.0" />
<line x1="17.60" y1="455.30" x2="17.60" y2="654.20" stroke="#555" stroke-width="1.1" />
<line x1="237.40" y1="455.30" x2="237.40" y2="654.20" stroke="#555" stroke-width="1.0" />
<line x1="17.60" y1="654.20" x2="237.40" y2="654.20" stroke="#555" stroke-width="1.1" />
<text x="128.20" y="463.40" font-size="8.4" fill="#111" text-anchor="middle" textLength="36.30" lengthAdjust="spacingAndGlyphs" >GAG-gclc LR</text>
<rect x="174.40" y="611.60" width="63.00" height="42.60" fill="#fff" />
<line x1="174.40" y1="611.60" x2="237.40" y2="611.60" stroke="#555" stroke-width="0.9" />
<line x1="174.40" y1="611.60" x2="174.40" y2="654.20" stroke="#555" stroke-width="0.9" />
<rect x="215.40" y="614.20" width="18.00" height="7.40" fill="#fde2c0" />
<text x="224.40" y="619.50" font-size="3.2" fill="#333" text-anchor="middle" >LRPA</text>
<rect x="210.90" y="634.30" width="18.60" height="7.60" fill="#d6e1ef" />
<text x="220.20" y="639.70" font-size="3.2" fill="#333" text-anchor="middle" >LRCT</text>
<line x1="174.40" y1="629.40" x2="215.32" y2="624.83" stroke="#f39a3a" stroke-width="0.9" />
<polygon points="218.30,624.50 215.46,626.12 215.17,623.54" fill="#f39a3a" />
<line x1="174.40" y1="629.40" x2="229.00" y2="631.30" stroke="#6d9cf3" stroke-width="0.9" />
<polygon points="232.00,631.40 228.96,632.60 229.05,630.00" fill="#6d9cf3" />
<text x="176.80" y="651.80" font-size="4.6" fill="#111" textLength="38.60" lengthAdjust="spacingAndGlyphs" >Response to tBHQ</text>
<circle cx="303.2" cy="475.2" r="1.3" fill="#1f3a73"/>
<circle cx="287.4" cy="502.8" r="1.3" fill="#1f3a73"/>
<circle cx="300.2" cy="510.4" r="1.3" fill="#1f3a73"/>
<circle cx="294.3" cy="536.4" r="1.3" fill="#1f3a73"/>
<circle cx="277.2" cy="543.9" r="1.3" fill="#1f3a73"/>
<circle cx="292.8" cy="543.8" r="1.3" fill="#1f3a73"/>
<circle cx="290.9" cy="566.5" r="1.3" fill="#1f3a73"/>
<circle cx="287.8" cy="568.0" r="1.3" fill="#1f3a73"/>
<circle cx="278.5" cy="579.4" r="1.3" fill="#1f3a73"/>
<circle cx="283.3" cy="587.6" r="1.3" fill="#1f3a73"/>
<circle cx="287.8" cy="592.3" r="1.3" fill="#1f3a73"/>
<circle cx="274.7" cy="604.7" r="1.3" fill="#1f3a73"/>
<circle cx="284.4" cy="604.7" r="1.3" fill="#1f3a73"/>
<circle cx="283.8" cy="625.9" r="1.3" fill="#1f3a73"/>
<circle cx="368.3" cy="602.2" r="1.3" fill="#1f3a73"/>
<circle cx="380.5" cy="521.2" r="1.3" fill="#1f3a73"/>
<circle cx="421.9" cy="543.4" r="1.3" fill="#1f3a73"/>
<circle cx="392.2" cy="564.0" r="1.3" fill="#1f3a73"/>
<circle cx="414.3" cy="559.9" r="1.3" fill="#1f3a73"/>
<circle cx="441.6" cy="569.9" r="1.3" fill="#1f3a73"/>
<circle cx="442.0" cy="576.7" r="1.3" fill="#1f3a73"/>
<circle cx="469.9" cy="578.1" r="1.3" fill="#1f3a73"/>
<circle cx="378.0" cy="579.4" r="1.3" fill="#1f3a73"/>
<circle cx="384.2" cy="588.0" r="1.3" fill="#1f3a73"/>
<circle cx="432.8" cy="587.0" r="1.3" fill="#1f3a73"/>
<circle cx="436.1" cy="593.7" r="1.3" fill="#1f3a73"/>
<circle cx="368.2" cy="602.1" r="1.3" fill="#1f3a73"/>
<circle cx="412.7" cy="612.4" r="1.3" fill="#1f3a73"/>
<circle cx="411.3" cy="625.9" r="1.3" fill="#1f3a73"/>
<circle cx="399.4" cy="636.6" r="1.3" fill="#1f3a73"/>
<circle cx="271.5" cy="493.5" r="1.3" fill="#e8561b"/>
<circle cx="267.0" cy="511.1" r="1.3" fill="#e8561b"/>
<circle cx="275.9" cy="513.8" r="1.3" fill="#e8561b"/>
<circle cx="281.0" cy="504.1" r="1.3" fill="#e8561b"/>
<circle cx="284.0" cy="508.3" r="1.3" fill="#e8561b"/>
<circle cx="280.6" cy="538.1" r="1.3" fill="#e8561b"/>
<circle cx="273.4" cy="548.1" r="1.3" fill="#e8561b"/>
<circle cx="289.3" cy="543.6" r="1.3" fill="#e8561b"/>
<circle cx="292.0" cy="546.8" r="1.3" fill="#e8561b"/>
<circle cx="296.9" cy="546.8" r="1.3" fill="#e8561b"/>
<circle cx="284.4" cy="563.7" r="1.3" fill="#e8561b"/>
<circle cx="281.8" cy="579.8" r="1.3" fill="#e8561b"/>
<circle cx="277.2" cy="594.0" r="1.3" fill="#e8561b"/>
<circle cx="280.4" cy="609.4" r="1.3" fill="#e8561b"/>
<circle cx="282.3" cy="640.7" r="1.3" fill="#e8561b"/>
<circle cx="346.5" cy="563.7" r="1.3" fill="#e8561b"/>
<circle cx="366.0" cy="612.3" r="1.3" fill="#e8561b"/>
<circle cx="420.0" cy="513.2" r="1.3" fill="#e8561b"/>
<circle cx="390.7" cy="552.5" r="1.3" fill="#e8561b"/>
<circle cx="440.0" cy="562.8" r="1.3" fill="#e8561b"/>
<circle cx="459.6" cy="566.9" r="1.3" fill="#e8561b"/>
<circle cx="411.3" cy="572.2" r="1.3" fill="#e8561b"/>
<circle cx="386.7" cy="585.9" r="1.3" fill="#e8561b"/>
<circle cx="391.0" cy="590.4" r="1.3" fill="#e8561b"/>
<circle cx="394.9" cy="590.9" r="1.3" fill="#e8561b"/>
<circle cx="397.1" cy="598.8" r="1.3" fill="#e8561b"/>
<circle cx="413.5" cy="597.8" r="1.3" fill="#e8561b"/>
<circle cx="365.9" cy="612.2" r="1.3" fill="#e8561b"/>
<circle cx="394.5" cy="623.0" r="1.3" fill="#e8561b"/>
<circle cx="371.7" cy="640.0" r="1.3" fill="#e8561b"/>
<circle cx="426.8" cy="646.4" r="1.3" fill="#e8561b"/>
<ellipse cx="0" cy="0" rx="7.00" ry="52.50" transform="translate(287.30,556.10) rotate(7.30)" fill="#374e94" fill-opacity="0.3" />
<ellipse cx="0" cy="0" rx="36.50" ry="36.00" transform="translate(414.00,582.00) rotate(0.00)" fill="#374e94" fill-opacity="0.3" />
<ellipse cx="0" cy="0" rx="9.40" ry="49.30" transform="translate(281.00,549.30) rotate(-2.20)" fill="#d4522d" fill-opacity="0.3" />
<ellipse cx="0" cy="0" rx="30.80" ry="43.60" transform="translate(401.00,588.00) rotate(28.80)" fill="#d4522d" fill-opacity="0.3" />
<line x1="289.00" y1="554.60" x2="407.47" y2="579.97" stroke="#2f4068" stroke-width="0.9" />
<polygon points="410.40,580.60 407.19,581.24 407.74,578.70" fill="#2f4068" />
<line x1="282.10" y1="549.50" x2="394.64" y2="585.58" stroke="#ee6b2f" stroke-width="0.9" />
<polygon points="397.50,586.50 394.25,586.82 395.04,584.35" fill="#ee6b2f" />
<line x1="257.60" y1="480.50" x2="260.30" y2="480.50" stroke="#777" stroke-width="0.8" />
<text x="255.60" y="482.50" font-size="5.8" fill="#222" text-anchor="end" textLength="6.61" lengthAdjust="spacingAndGlyphs" >1,5</text>
<line x1="257.60" y1="507.20" x2="260.30" y2="507.20" stroke="#777" stroke-width="0.8" />
<text x="255.60" y="509.20" font-size="5.8" fill="#222" text-anchor="end" textLength="6.61" lengthAdjust="spacingAndGlyphs" >1,0</text>
<line x1="257.60" y1="533.90" x2="260.30" y2="533.90" stroke="#777" stroke-width="0.8" />
<text x="255.60" y="535.90" font-size="5.8" fill="#222" text-anchor="end" textLength="6.61" lengthAdjust="spacingAndGlyphs" >0,5</text>
<line x1="257.60" y1="560.60" x2="260.30" y2="560.60" stroke="#777" stroke-width="0.8" />
<text x="255.60" y="562.60" font-size="5.8" fill="#222" text-anchor="end" textLength="6.61" lengthAdjust="spacingAndGlyphs" >0,0</text>
<line x1="257.60" y1="587.30" x2="260.30" y2="587.30" stroke="#777" stroke-width="0.8" />
<text x="255.60" y="589.30" font-size="5.8" fill="#222" text-anchor="end" textLength="8.20" lengthAdjust="spacingAndGlyphs" >-0,5</text>
<line x1="257.60" y1="614.00" x2="260.30" y2="614.00" stroke="#777" stroke-width="0.8" />
<text x="255.60" y="616.00" font-size="5.8" fill="#222" text-anchor="end" textLength="8.20" lengthAdjust="spacingAndGlyphs" >-1,0</text>
<line x1="257.60" y1="640.70" x2="260.30" y2="640.70" stroke="#777" stroke-width="0.8" />
<text x="255.60" y="642.70" font-size="5.8" fill="#222" text-anchor="end" textLength="8.20" lengthAdjust="spacingAndGlyphs" >-1,5</text>
<line x1="258.60" y1="493.85" x2="260.30" y2="493.85" stroke="#999" stroke-width="0.7" />
<line x1="258.60" y1="520.55" x2="260.30" y2="520.55" stroke="#999" stroke-width="0.7" />
<line x1="258.60" y1="547.25" x2="260.30" y2="547.25" stroke="#999" stroke-width="0.7" />
<line x1="258.60" y1="573.95" x2="260.30" y2="573.95" stroke="#999" stroke-width="0.7" />
<line x1="258.60" y1="600.65" x2="260.30" y2="600.65" stroke="#999" stroke-width="0.7" />
<line x1="258.60" y1="627.35" x2="260.30" y2="627.35" stroke="#999" stroke-width="0.7" />
<line x1="275.80" y1="654.20" x2="275.80" y2="656.80" stroke="#777" stroke-width="0.7" />
<text x="275.80" y="662.80" font-size="5.8" fill="#222" text-anchor="middle" textLength="8.20" lengthAdjust="spacingAndGlyphs" >-1,0</text>
<line x1="292.80" y1="654.20" x2="292.80" y2="655.80" stroke="#777" stroke-width="0.7" />
<line x1="309.80" y1="654.20" x2="309.80" y2="656.80" stroke="#777" stroke-width="0.7" />
<text x="309.80" y="662.80" font-size="5.8" fill="#222" text-anchor="middle" textLength="8.20" lengthAdjust="spacingAndGlyphs" >-0,5</text>
<line x1="326.80" y1="654.20" x2="326.80" y2="655.80" stroke="#777" stroke-width="0.7" />
<line x1="343.80" y1="654.20" x2="343.80" y2="656.80" stroke="#777" stroke-width="0.7" />
<text x="343.80" y="662.80" font-size="5.8" fill="#222" text-anchor="middle" textLength="6.61" lengthAdjust="spacingAndGlyphs" >0,0</text>
<line x1="360.80" y1="654.20" x2="360.80" y2="655.80" stroke="#777" stroke-width="0.7" />
<line x1="377.80" y1="654.20" x2="377.80" y2="656.80" stroke="#777" stroke-width="0.7" />
<text x="377.80" y="662.80" font-size="5.8" fill="#222" text-anchor="middle" textLength="6.61" lengthAdjust="spacingAndGlyphs" >0,5</text>
<line x1="394.80" y1="654.20" x2="394.80" y2="655.80" stroke="#777" stroke-width="0.7" />
<line x1="411.80" y1="654.20" x2="411.80" y2="656.80" stroke="#777" stroke-width="0.7" />
<text x="411.80" y="662.80" font-size="5.8" fill="#222" text-anchor="middle" textLength="6.61" lengthAdjust="spacingAndGlyphs" >1,0</text>
<line x1="428.80" y1="654.20" x2="428.80" y2="655.80" stroke="#777" stroke-width="0.7" />
<line x1="445.80" y1="654.20" x2="445.80" y2="656.80" stroke="#777" stroke-width="0.7" />
<text x="445.80" y="662.80" font-size="5.8" fill="#222" text-anchor="middle" textLength="6.61" lengthAdjust="spacingAndGlyphs" >1,5</text>
<line x1="462.80" y1="654.20" x2="462.80" y2="655.80" stroke="#777" stroke-width="0.7" />
<line x1="479.80" y1="654.20" x2="479.80" y2="656.80" stroke="#777" stroke-width="0.7" />
<text x="479.80" y="662.80" font-size="5.8" fill="#222" text-anchor="middle" textLength="6.61" lengthAdjust="spacingAndGlyphs" >2,0</text>
<text x="362.90" y="670.20" font-size="6.2" fill="#222" textLength="19.50" lengthAdjust="spacingAndGlyphs" >Factor 1</text>
<text transform="translate(247.3,570.8) rotate(-90)" font-size="6.2" fill="#222" stroke="#222" stroke-width="0.15" textLength="19.7" lengthAdjust="spacingAndGlyphs">Factor 2</text>
<rect x="260.30" y="455.30" width="220.10" height="10.00" fill="#dcdcdc" />
<line x1="260.30" y1="455.30" x2="480.40" y2="455.30" stroke="#555" stroke-width="1.0" />
<line x1="260.30" y1="465.30" x2="480.40" y2="465.30" stroke="#555" stroke-width="1.0" />
<line x1="260.30" y1="455.30" x2="260.30" y2="654.20" stroke="#555" stroke-width="1.1" />
<line x1="480.40" y1="455.30" x2="480.40" y2="654.20" stroke="#555" stroke-width="1.0" />
<line x1="260.30" y1="654.20" x2="480.40" y2="654.20" stroke="#555" stroke-width="1.1" />
<text x="371.60" y="463.40" font-size="8.4" fill="#111" text-anchor="middle" textLength="37.00" lengthAdjust="spacingAndGlyphs" >GAG-gclc HR</text>
<rect x="417.90" y="465.60" width="62.50" height="43.00" fill="#fff" />
<line x1="417.90" y1="465.60" x2="417.90" y2="508.60" stroke="#b8b8b8" stroke-width="0.9" />
<line x1="417.90" y1="508.60" x2="480.40" y2="508.60" stroke="#b8b8b8" stroke-width="0.9" />
<rect x="461.50" y="473.30" width="18.50" height="8.00" fill="#c0c8dc" />
<text x="470.70" y="478.90" font-size="3.2" fill="#333" text-anchor="middle" >HRCT</text>
<rect x="439.30" y="488.90" width="19.80" height="7.60" fill="#f1c4b8" />
<text x="449.20" y="494.20" font-size="3.2" fill="#333" text-anchor="middle" >HRPA</text>
<line x1="417.90" y1="473.70" x2="464.87" y2="483.87" stroke="#2f4068" stroke-width="0.9" />
<polygon points="467.80,484.50 464.59,485.14 465.14,482.59" fill="#2f4068" />
<line x1="417.90" y1="473.70" x2="462.14" y2="487.60" stroke="#ee6b2f" stroke-width="0.9" />
<polygon points="465.00,488.50 461.75,488.84 462.53,486.36" fill="#ee6b2f" />
<text x="419.80" y="507.40" font-size="4.6" fill="#111" textLength="38.50" lengthAdjust="spacingAndGlyphs" >Response to tBHQ</text>
<rect x="508.00" y="465.20" width="14.20" height="14.20" fill="#dde8f4" stroke="#9a9a9a" stroke-width="1.0" />
<rect x="508.00" y="482.40" width="14.20" height="14.20" fill="#203864" stroke="#888" stroke-width="1.0" />
<rect x="594.50" y="465.20" width="14.20" height="14.20" fill="#ffc000" stroke="#a08a50" stroke-width="1.0" />
<rect x="594.50" y="482.40" width="14.20" height="14.20" fill="#c55a11" stroke="#8a6a50" stroke-width="1.0" />
<text x="524.70" y="475.40" font-size="10.6" fill="#111" stroke="#111" stroke-width="0.25" textLength="52.70" lengthAdjust="spacingAndGlyphs" >LR Controls</text>
<text x="524.70" y="492.60" font-size="10.6" fill="#111" stroke="#111" stroke-width="0.25" textLength="54.30" lengthAdjust="spacingAndGlyphs" >HR Controls</text>
<text x="610.70" y="475.40" font-size="10.6" fill="#111" stroke="#111" stroke-width="0.25" textLength="48.00" lengthAdjust="spacingAndGlyphs" >LR Patients</text>
<text x="610.70" y="492.60" font-size="10.6" fill="#111" stroke="#111" stroke-width="0.25" textLength="49.90" lengthAdjust="spacingAndGlyphs" >HR Patients</text>
<text x="529.40" y="533.60" font-size="11.0" fill="#111" stroke="#111" stroke-width="0.25" textLength="83.80" lengthAdjust="spacingAndGlyphs" >Response to tBHQ</text>
<rect x="496.50" y="550.30" width="169.70" height="102.40" fill="#a1b7e1" />
<line x1="495.90" y1="549.50" x2="495.90" y2="653.30" stroke="#000" stroke-width="1.4" />
<polygon points="495.90,544.90 492.70,551.00 499.10,551.00" fill="#000" />
<line x1="495.20" y1="652.70" x2="668.50" y2="652.70" stroke="#000" stroke-width="1.4" />
<polygon points="674.20,652.70 668.00,649.50 668.00,655.90" fill="#000" />
<text x="492.00" y="543.00" font-size="9.6" fill="#111" stroke="#111" stroke-width="0.25" textLength="8.60" lengthAdjust="spacingAndGlyphs" >F2</text>
<text x="674.60" y="655.60" font-size="9.6" fill="#111" stroke="#111" stroke-width="0.25" textLength="9.20" lengthAdjust="spacingAndGlyphs" >F1</text>
<line x1="493.00" y1="565.90" x2="499.00" y2="565.90" stroke="#000" stroke-width="1.0" />
<text x="486.80" y="567.30" font-size="4.0" fill="#222" text-anchor="middle" >0.5</text>
<line x1="493.00" y1="591.30" x2="499.00" y2="591.30" stroke="#000" stroke-width="1.0" />
<text x="488.40" y="592.70" font-size="4.0" fill="#222" text-anchor="middle" >0</text>
<line x1="493.00" y1="616.80" x2="499.00" y2="616.80" stroke="#000" stroke-width="1.0" />
<text x="486.30" y="618.20" font-size="4.0" fill="#222" text-anchor="middle" >-0.5</text>
<line x1="533.10" y1="650.00" x2="533.10" y2="655.50" stroke="#000" stroke-width="1.0" />
<text x="533.10" y="663.00" font-size="4.0" fill="#222" text-anchor="middle" >0.5</text>
<line x1="571.40" y1="650.00" x2="571.40" y2="655.50" stroke="#000" stroke-width="1.0" />
<text x="571.40" y="663.00" font-size="4.0" fill="#222" text-anchor="middle" >1</text>
<line x1="609.60" y1="650.00" x2="609.60" y2="655.50" stroke="#000" stroke-width="1.0" />
<text x="609.60" y="663.00" font-size="4.0" fill="#222" text-anchor="middle" >1.5</text>
<line x1="648.20" y1="650.00" x2="648.20" y2="655.50" stroke="#000" stroke-width="1.0" />
<text x="648.20" y="663.00" font-size="4.0" fill="#222" text-anchor="middle" >2</text>
<text x="481.00" y="663.00" font-size="4.0" fill="#222" text-anchor="middle" >0</text>
<line x1="495.90" y1="591.30" x2="618.62" y2="578.37" stroke="#f4a040" stroke-width="1.5" />
<polygon points="623.10,577.90 618.86,580.56 618.39,576.18" fill="#f4a040" />
<line x1="495.90" y1="591.30" x2="657.10" y2="596.85" stroke="#7aa0f8" stroke-width="1.5" />
<polygon points="661.60,597.00 657.03,599.04 657.18,594.65" fill="#7aa0f8" />
<line x1="495.90" y1="591.30" x2="631.20" y2="620.26" stroke="#2e4a77" stroke-width="1.5" />
<polygon points="635.60,621.20 630.74,622.41 631.66,618.11" fill="#2e4a77" />
<line x1="495.90" y1="591.30" x2="623.71" y2="632.03" stroke="#ee6a30" stroke-width="1.5" />
<polygon points="628.00,633.40 623.04,634.13 624.38,629.94" fill="#ee6a30" />
<text x="606.30" y="571.60" font-size="8.6" fill="#111" stroke="#111" stroke-width="0.25" textLength="18.90" lengthAdjust="spacingAndGlyphs" >LRPA</text>
<text x="642.00" y="591.30" font-size="8.6" fill="#111" stroke="#111" stroke-width="0.25" textLength="21.00" lengthAdjust="spacingAndGlyphs" >LR CT</text>
<text x="637.80" y="628.90" font-size="8.6" fill="#111" stroke="#111" stroke-width="0.25" textLength="22.50" lengthAdjust="spacingAndGlyphs" >HR CT</text>
<text x="607.80" y="644.00" font-size="8.6" fill="#111" stroke="#111" stroke-width="0.25" textLength="20.40" lengthAdjust="spacingAndGlyphs" >HRPA</text>
</svg>
</body></html>
